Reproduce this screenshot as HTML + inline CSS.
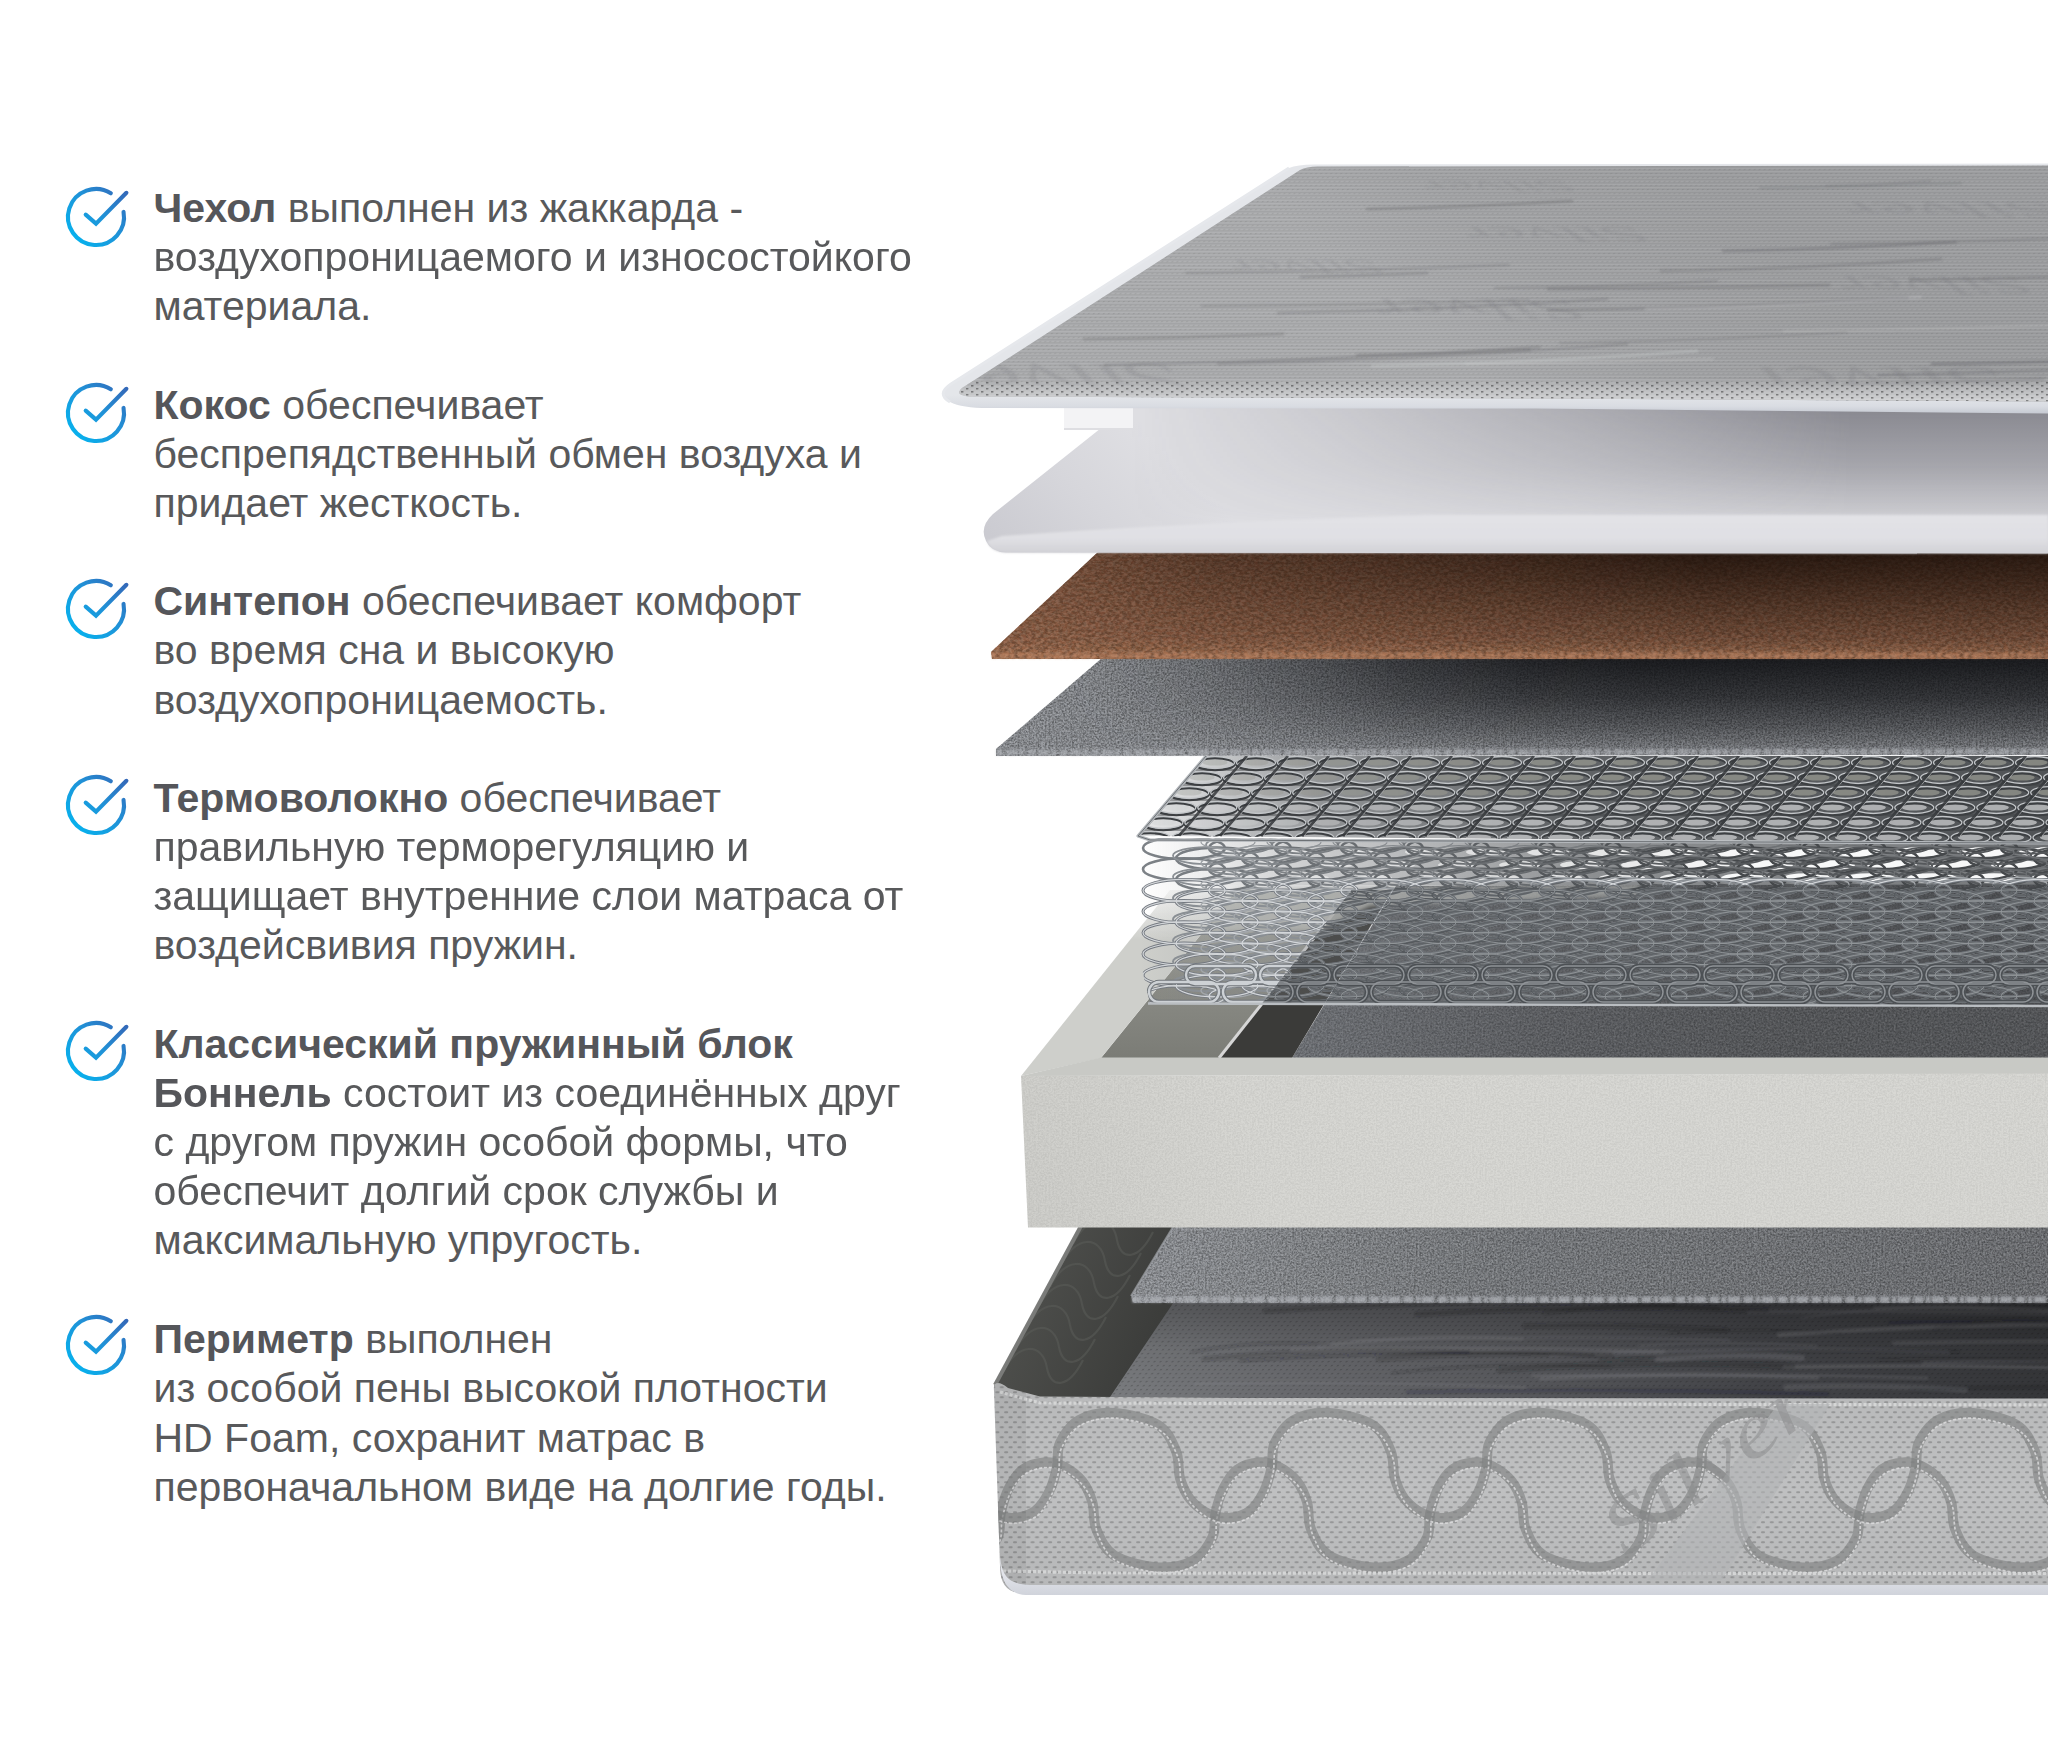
<!DOCTYPE html>
<html lang="ru"><head><meta charset="utf-8"><title>Состав матраса</title>
<style>
html,body{margin:0;padding:0;background:#fff}
body{width:2048px;height:1757px;position:relative;overflow:hidden;font-family:"Liberation Sans",Arial,sans-serif}
.ln{position:absolute;left:153.5px;white-space:nowrap;font-size:41px;line-height:49.15px;height:49.15px;color:#58595b;letter-spacing:0}
.ln b{font-weight:700;color:#55565a}
.ic{position:absolute;overflow:visible}
#mat{position:absolute;left:0;top:0}
</style></head><body>
<svg width="0" height="0" style="position:absolute"><defs>
<linearGradient id="gchk" gradientUnits="userSpaceOnUse" x1="-22" y1="24" x2="30" y2="-26"><stop offset="0" stop-color="#06b2ee"/><stop offset="0.55" stop-color="#2190d6"/><stop offset="1" stop-color="#3468b8"/></linearGradient>
<g id="chk" fill="none" stroke="url(#gchk)" stroke-width="4.1" stroke-linecap="round" stroke-linejoin="miter">
<path d="M14.84,-23.75 A28,28 0 1 0 27.53,-5.10"/>
<path d="M-10.3,-2.4 L0,6.6 L30.4,-24.2"/>
</g></defs></svg>
<svg id="mat" width="2048" height="1757" viewBox="0 0 2048 1757"><defs>
<filter id="fNoise" x="0" y="0" width="100%" height="100%">
  <feTurbulence type="fractalNoise" baseFrequency="0.55" numOctaves="3" seed="3" result="n"/>
  <feColorMatrix in="n" type="matrix" values="0 0 0 0 0  0 0 0 0 0  0 0 0 0 0  1.9 1.9 0 0 -1.45" result="a"/>
  <feComposite in="a" in2="SourceGraphic" operator="in"/>
</filter>
<filter id="fNoiseW" x="0" y="0" width="100%" height="100%">
  <feTurbulence type="fractalNoise" baseFrequency="0.5" numOctaves="3" seed="8" result="n"/>
  <feColorMatrix in="n" type="matrix" values="0 0 0 0 1  0 0 0 0 1  0 0 0 0 1  1.9 1.9 0 0 -1.5" result="a"/>
  <feComposite in="a" in2="SourceGraphic" operator="in"/>
</filter>
<filter id="fCoco" x="0" y="0" width="100%" height="100%">
  <feTurbulence type="fractalNoise" baseFrequency="0.22 0.34" numOctaves="4" seed="5" result="n"/>
  <feColorMatrix in="n" type="matrix" values="0 0 0 0 0.13  0 0 0 0 0.06  0 0 0 0 0.03  2.4 2.4 0 0 -1.9" result="a"/>
  <feComposite in="a" in2="SourceGraphic" operator="in"/>
</filter>
<filter id="fCocoL" x="0" y="0" width="100%" height="100%">
  <feTurbulence type="fractalNoise" baseFrequency="0.25 0.4" numOctaves="4" seed="21" result="n"/>
  <feColorMatrix in="n" type="matrix" values="0 0 0 0 0.86  0 0 0 0 0.66  0 0 0 0 0.54  2.4 2.4 0 0 -1.95" result="a"/>
  <feComposite in="a" in2="SourceGraphic" operator="in"/>
</filter>
<filter id="blur1"><feGaussianBlur stdDeviation="1"/></filter>
<filter id="blurL" filterUnits="userSpaceOnUse" x="900" y="100" width="1200" height="1600"><feGaussianBlur stdDeviation="0.8"/></filter>
<filter id="blur2"><feGaussianBlur stdDeviation="2"/></filter>
<filter id="blur4"><feGaussianBlur stdDeviation="4"/></filter>
<pattern id="dots" width="8.8" height="10" patternUnits="userSpaceOnUse"><rect x="1" y="1.2" width="4" height="2.1" rx="1" fill="#000" opacity="0.2"/><rect x="5.4" y="6.2" width="4" height="2.1" rx="1" fill="#000" opacity="0.2"/><rect x="-3.4" y="6.2" width="4" height="2.1" rx="1" fill="#000" opacity="0.2"/></pattern>
<pattern id="dotsTop" width="5" height="4" patternUnits="userSpaceOnUse" patternTransform="skewX(-40)"><rect x="1" y="1" width="1.6" height="1.2" fill="#000" opacity="0.09"/></pattern>
<pattern id="dotsEdge" width="10" height="6" patternUnits="userSpaceOnUse"><rect x="1" y="1" width="2.4" height="1.6" fill="#000" opacity="0.38"/><rect x="6" y="4" width="2.4" height="1.5" fill="#000" opacity="0.38"/></pattern>
<pattern id="dotsFloor" width="6" height="4" patternUnits="userSpaceOnUse" patternTransform="skewX(-35)"><rect x="1" y="1" width="2" height="1.2" fill="#000" opacity="0.22"/></pattern>

<linearGradient id="gFloorX" gradientUnits="userSpaceOnUse" x1="1100" y1="0" x2="2048" y2="0">
 <stop offset="0" stop-color="#7c7e81"/><stop offset="0.2" stop-color="#6a6b6f"/><stop offset="0.4" stop-color="#5c5d61"/><stop offset="0.7" stop-color="#444549"/><stop offset="1" stop-color="#36373a"/></linearGradient>
<linearGradient id="gFloorY" gradientUnits="userSpaceOnUse" x1="0" y1="1300" x2="0" y2="1400">
 <stop offset="0" stop-color="#000" stop-opacity="0.3"/><stop offset="0.5" stop-color="#000" stop-opacity="0.07"/><stop offset="1" stop-color="#000" stop-opacity="0"/></linearGradient>
<linearGradient id="gWall" gradientUnits="userSpaceOnUse" x1="1000" y1="1300" x2="1150" y2="1360">
 <stop offset="0" stop-color="#50514e"/><stop offset="1" stop-color="#3b3c3a"/></linearGradient>
<linearGradient id="gFront" gradientUnits="userSpaceOnUse" x1="0" y1="1398" x2="0" y2="1585">
 <stop offset="0" stop-color="#b9babb"/><stop offset="0.5" stop-color="#bfc0c1"/><stop offset="1" stop-color="#b7b8b9"/></linearGradient>
<linearGradient id="gTrimB" gradientUnits="userSpaceOnUse" x1="0" y1="1574" x2="0" y2="1595">
 <stop offset="0" stop-color="#e2e4ea"/><stop offset="1" stop-color="#d0d3db"/></linearGradient>
<clipPath id="cpFloor"><polygon points="1100.0,1400.0 1168.0,1296.0 2048.0,1296.0 2048.0,1400.0"/></clipPath><clipPath id="cpWall"><polygon points="994.0,1386.0 1080.0,1226.0 1225.0,1226.0 1108.0,1400.0 1000.0,1400.0"/></clipPath><clipPath id="cpFront"><path d="M994,1391 C993,1381 999,1381 1008,1388 L1040,1396.5 L1240,1398 L2048,1398.5 L2048,1592 L1014,1592 C1003,1588 1000,1578 1000,1566 Z"/></clipPath>
<linearGradient id="gFelt2" gradientUnits="userSpaceOnUse" x1="1130" y1="0" x2="2048" y2="0">
 <stop offset="0" stop-color="#94979c"/><stop offset="0.2" stop-color="#878a8e"/><stop offset="0.4" stop-color="#7a7d81"/><stop offset="1" stop-color="#6e7074"/></linearGradient>

<linearGradient id="gBoxFront" gradientUnits="userSpaceOnUse" x1="1020" y1="1230" x2="1500" y2="1075">
 <stop offset="0" stop-color="#cececa"/><stop offset="0.5" stop-color="#d7d7d3"/><stop offset="1" stop-color="#d8d8d4"/></linearGradient>
<linearGradient id="gRimFade" gradientUnits="userSpaceOnUse" x1="0" y1="888" x2="0" y2="940">
 <stop offset="0" stop-color="#cecfcb" stop-opacity="0.15"/><stop offset="1" stop-color="#cecfcb" stop-opacity="1"/></linearGradient>
<linearGradient id="gWallFade" gradientUnits="userSpaceOnUse" x1="0" y1="905" x2="0" y2="1058">
 <stop offset="0" stop-color="#a9aaa4"/><stop offset="0.5" stop-color="#8b8c86"/><stop offset="1" stop-color="#7b7c76"/></linearGradient>
<linearGradient id="gInFelt" gradientUnits="userSpaceOnUse" x1="1290" y1="0" x2="1800" y2="0">
 <stop offset="0" stop-color="#707378"/><stop offset="0.5" stop-color="#5d5f63"/><stop offset="1" stop-color="#545659"/></linearGradient>

<linearGradient id="gSprTop" gradientUnits="userSpaceOnUse" x1="1140" y1="0" x2="2048" y2="0">
 <stop offset="0" stop-color="#a0a3a6" stop-opacity="0.25"/><stop offset="0.2" stop-color="#75787b" stop-opacity="0.8"/><stop offset="0.45" stop-color="#5c5f62" stop-opacity="0.97"/><stop offset="1" stop-color="#505356" stop-opacity="1"/></linearGradient>
<linearGradient id="gSprBand" gradientUnits="userSpaceOnUse" x1="1140" y1="0" x2="2048" y2="0">
 <stop offset="0" stop-color="#8a8d90" stop-opacity="0"/><stop offset="0.18" stop-color="#84878a" stop-opacity="0.4"/><stop offset="0.5" stop-color="#6f7275" stop-opacity="0.8"/><stop offset="1" stop-color="#66696c" stop-opacity="0.9"/></linearGradient>
<linearGradient id="gSprLow" gradientUnits="userSpaceOnUse" x1="1140" y1="0" x2="2048" y2="0">
 <stop offset="0" stop-color="#8a8d90" stop-opacity="0"/><stop offset="0.12" stop-color="#8a8d90" stop-opacity="0.25"/><stop offset="0.3" stop-color="#6a6d70" stop-opacity="0.3"/><stop offset="1" stop-color="#3e4044" stop-opacity="0.4"/></linearGradient>
<clipPath id="cpSprF"><polygon points="1140.0,838.0 2048.0,843.0 2048.0,1006.0 1150.0,1004.0 1140.0,960.0"/></clipPath><clipPath id="cpSprT"><polygon points="1138.0,836.0 1206.0,756.0 2048.0,756.0 2048.0,843.0"/></clipPath><g id="cb0" fill="none"><ellipse cx="1184" cy="848.0" rx="41" ry="11"/><ellipse cx="1250" cy="848.0" rx="41" ry="11"/><ellipse cx="1316" cy="848.0" rx="41" ry="11"/><ellipse cx="1382" cy="848.0" rx="41" ry="11"/><ellipse cx="1448" cy="848.0" rx="41" ry="11"/><ellipse cx="1514" cy="848.0" rx="41" ry="11"/><ellipse cx="1580" cy="848.0" rx="41" ry="11"/><ellipse cx="1646" cy="848.0" rx="41" ry="11"/><ellipse cx="1712" cy="848.0" rx="41" ry="11"/><ellipse cx="1778" cy="848.0" rx="41" ry="11"/><ellipse cx="1844" cy="848.0" rx="41" ry="11"/><ellipse cx="1910" cy="848.0" rx="41" ry="11"/><ellipse cx="1976" cy="848.0" rx="41" ry="11"/><ellipse cx="2042" cy="848.0" rx="41" ry="11"/><ellipse cx="2108" cy="848.0" rx="41" ry="11"/><ellipse cx="1217" cy="858.6" rx="41" ry="11"/><ellipse cx="1283" cy="858.6" rx="41" ry="11"/><ellipse cx="1349" cy="858.6" rx="41" ry="11"/><ellipse cx="1415" cy="858.6" rx="41" ry="11"/><ellipse cx="1481" cy="858.6" rx="41" ry="11"/><ellipse cx="1547" cy="858.6" rx="41" ry="11"/><ellipse cx="1613" cy="858.6" rx="41" ry="11"/><ellipse cx="1679" cy="858.6" rx="41" ry="11"/><ellipse cx="1745" cy="858.6" rx="41" ry="11"/><ellipse cx="1811" cy="858.6" rx="41" ry="11"/><ellipse cx="1877" cy="858.6" rx="41" ry="11"/><ellipse cx="1943" cy="858.6" rx="41" ry="11"/><ellipse cx="2009" cy="858.6" rx="41" ry="11"/><ellipse cx="2075" cy="858.6" rx="41" ry="11"/><ellipse cx="1184" cy="869.2" rx="41" ry="11"/><ellipse cx="1250" cy="869.2" rx="41" ry="11"/><ellipse cx="1316" cy="869.2" rx="41" ry="11"/><ellipse cx="1382" cy="869.2" rx="41" ry="11"/><ellipse cx="1448" cy="869.2" rx="41" ry="11"/><ellipse cx="1514" cy="869.2" rx="41" ry="11"/><ellipse cx="1580" cy="869.2" rx="41" ry="11"/><ellipse cx="1646" cy="869.2" rx="41" ry="11"/><ellipse cx="1712" cy="869.2" rx="41" ry="11"/><ellipse cx="1778" cy="869.2" rx="41" ry="11"/><ellipse cx="1844" cy="869.2" rx="41" ry="11"/><ellipse cx="1910" cy="869.2" rx="41" ry="11"/><ellipse cx="1976" cy="869.2" rx="41" ry="11"/><ellipse cx="2042" cy="869.2" rx="41" ry="11"/><ellipse cx="2108" cy="869.2" rx="41" ry="11"/><ellipse cx="1217" cy="879.8" rx="41" ry="11"/><ellipse cx="1283" cy="879.8" rx="41" ry="11"/><ellipse cx="1349" cy="879.8" rx="41" ry="11"/><ellipse cx="1415" cy="879.8" rx="41" ry="11"/><ellipse cx="1481" cy="879.8" rx="41" ry="11"/><ellipse cx="1547" cy="879.8" rx="41" ry="11"/><ellipse cx="1613" cy="879.8" rx="41" ry="11"/><ellipse cx="1679" cy="879.8" rx="41" ry="11"/><ellipse cx="1745" cy="879.8" rx="41" ry="11"/><ellipse cx="1811" cy="879.8" rx="41" ry="11"/><ellipse cx="1877" cy="879.8" rx="41" ry="11"/><ellipse cx="1943" cy="879.8" rx="41" ry="11"/><ellipse cx="2009" cy="879.8" rx="41" ry="11"/><ellipse cx="2075" cy="879.8" rx="41" ry="11"/></g><g id="cb1" fill="none"><ellipse cx="1239" cy="845.0" rx="33" ry="8.5"/><ellipse cx="1305" cy="845.0" rx="33" ry="8.5"/><ellipse cx="1371" cy="845.0" rx="33" ry="8.5"/><ellipse cx="1437" cy="845.0" rx="33" ry="8.5"/><ellipse cx="1503" cy="845.0" rx="33" ry="8.5"/><ellipse cx="1569" cy="845.0" rx="33" ry="8.5"/><ellipse cx="1635" cy="845.0" rx="33" ry="8.5"/><ellipse cx="1701" cy="845.0" rx="33" ry="8.5"/><ellipse cx="1767" cy="845.0" rx="33" ry="8.5"/><ellipse cx="1833" cy="845.0" rx="33" ry="8.5"/><ellipse cx="1899" cy="845.0" rx="33" ry="8.5"/><ellipse cx="1965" cy="845.0" rx="33" ry="8.5"/><ellipse cx="2031" cy="845.0" rx="33" ry="8.5"/><ellipse cx="2097" cy="845.0" rx="33" ry="8.5"/><ellipse cx="1206" cy="855.6" rx="33" ry="8.5"/><ellipse cx="1272" cy="855.6" rx="33" ry="8.5"/><ellipse cx="1338" cy="855.6" rx="33" ry="8.5"/><ellipse cx="1404" cy="855.6" rx="33" ry="8.5"/><ellipse cx="1470" cy="855.6" rx="33" ry="8.5"/><ellipse cx="1536" cy="855.6" rx="33" ry="8.5"/><ellipse cx="1602" cy="855.6" rx="33" ry="8.5"/><ellipse cx="1668" cy="855.6" rx="33" ry="8.5"/><ellipse cx="1734" cy="855.6" rx="33" ry="8.5"/><ellipse cx="1800" cy="855.6" rx="33" ry="8.5"/><ellipse cx="1866" cy="855.6" rx="33" ry="8.5"/><ellipse cx="1932" cy="855.6" rx="33" ry="8.5"/><ellipse cx="1998" cy="855.6" rx="33" ry="8.5"/><ellipse cx="2064" cy="855.6" rx="33" ry="8.5"/><ellipse cx="1239" cy="866.2" rx="33" ry="8.5"/><ellipse cx="1305" cy="866.2" rx="33" ry="8.5"/><ellipse cx="1371" cy="866.2" rx="33" ry="8.5"/><ellipse cx="1437" cy="866.2" rx="33" ry="8.5"/><ellipse cx="1503" cy="866.2" rx="33" ry="8.5"/><ellipse cx="1569" cy="866.2" rx="33" ry="8.5"/><ellipse cx="1635" cy="866.2" rx="33" ry="8.5"/><ellipse cx="1701" cy="866.2" rx="33" ry="8.5"/><ellipse cx="1767" cy="866.2" rx="33" ry="8.5"/><ellipse cx="1833" cy="866.2" rx="33" ry="8.5"/><ellipse cx="1899" cy="866.2" rx="33" ry="8.5"/><ellipse cx="1965" cy="866.2" rx="33" ry="8.5"/><ellipse cx="2031" cy="866.2" rx="33" ry="8.5"/><ellipse cx="2097" cy="866.2" rx="33" ry="8.5"/><ellipse cx="1206" cy="876.8" rx="33" ry="8.5"/><ellipse cx="1272" cy="876.8" rx="33" ry="8.5"/><ellipse cx="1338" cy="876.8" rx="33" ry="8.5"/><ellipse cx="1404" cy="876.8" rx="33" ry="8.5"/><ellipse cx="1470" cy="876.8" rx="33" ry="8.5"/><ellipse cx="1536" cy="876.8" rx="33" ry="8.5"/><ellipse cx="1602" cy="876.8" rx="33" ry="8.5"/><ellipse cx="1668" cy="876.8" rx="33" ry="8.5"/><ellipse cx="1734" cy="876.8" rx="33" ry="8.5"/><ellipse cx="1800" cy="876.8" rx="33" ry="8.5"/><ellipse cx="1866" cy="876.8" rx="33" ry="8.5"/><ellipse cx="1932" cy="876.8" rx="33" ry="8.5"/><ellipse cx="1998" cy="876.8" rx="33" ry="8.5"/><ellipse cx="2064" cy="876.8" rx="33" ry="8.5"/></g><g id="cb2" fill="none"><ellipse cx="1228" cy="842.0" rx="27" ry="7"/><ellipse cx="1294" cy="842.0" rx="27" ry="7"/><ellipse cx="1360" cy="842.0" rx="27" ry="7"/><ellipse cx="1426" cy="842.0" rx="27" ry="7"/><ellipse cx="1492" cy="842.0" rx="27" ry="7"/><ellipse cx="1558" cy="842.0" rx="27" ry="7"/><ellipse cx="1624" cy="842.0" rx="27" ry="7"/><ellipse cx="1690" cy="842.0" rx="27" ry="7"/><ellipse cx="1756" cy="842.0" rx="27" ry="7"/><ellipse cx="1822" cy="842.0" rx="27" ry="7"/><ellipse cx="1888" cy="842.0" rx="27" ry="7"/><ellipse cx="1954" cy="842.0" rx="27" ry="7"/><ellipse cx="2020" cy="842.0" rx="27" ry="7"/><ellipse cx="2086" cy="842.0" rx="27" ry="7"/><ellipse cx="1261" cy="852.6" rx="27" ry="7"/><ellipse cx="1327" cy="852.6" rx="27" ry="7"/><ellipse cx="1393" cy="852.6" rx="27" ry="7"/><ellipse cx="1459" cy="852.6" rx="27" ry="7"/><ellipse cx="1525" cy="852.6" rx="27" ry="7"/><ellipse cx="1591" cy="852.6" rx="27" ry="7"/><ellipse cx="1657" cy="852.6" rx="27" ry="7"/><ellipse cx="1723" cy="852.6" rx="27" ry="7"/><ellipse cx="1789" cy="852.6" rx="27" ry="7"/><ellipse cx="1855" cy="852.6" rx="27" ry="7"/><ellipse cx="1921" cy="852.6" rx="27" ry="7"/><ellipse cx="1987" cy="852.6" rx="27" ry="7"/><ellipse cx="2053" cy="852.6" rx="27" ry="7"/><ellipse cx="1228" cy="863.2" rx="27" ry="7"/><ellipse cx="1294" cy="863.2" rx="27" ry="7"/><ellipse cx="1360" cy="863.2" rx="27" ry="7"/><ellipse cx="1426" cy="863.2" rx="27" ry="7"/><ellipse cx="1492" cy="863.2" rx="27" ry="7"/><ellipse cx="1558" cy="863.2" rx="27" ry="7"/><ellipse cx="1624" cy="863.2" rx="27" ry="7"/><ellipse cx="1690" cy="863.2" rx="27" ry="7"/><ellipse cx="1756" cy="863.2" rx="27" ry="7"/><ellipse cx="1822" cy="863.2" rx="27" ry="7"/><ellipse cx="1888" cy="863.2" rx="27" ry="7"/><ellipse cx="1954" cy="863.2" rx="27" ry="7"/><ellipse cx="2020" cy="863.2" rx="27" ry="7"/><ellipse cx="2086" cy="863.2" rx="27" ry="7"/><ellipse cx="1261" cy="873.8" rx="27" ry="7"/><ellipse cx="1327" cy="873.8" rx="27" ry="7"/><ellipse cx="1393" cy="873.8" rx="27" ry="7"/><ellipse cx="1459" cy="873.8" rx="27" ry="7"/><ellipse cx="1525" cy="873.8" rx="27" ry="7"/><ellipse cx="1591" cy="873.8" rx="27" ry="7"/><ellipse cx="1657" cy="873.8" rx="27" ry="7"/><ellipse cx="1723" cy="873.8" rx="27" ry="7"/><ellipse cx="1789" cy="873.8" rx="27" ry="7"/><ellipse cx="1855" cy="873.8" rx="27" ry="7"/><ellipse cx="1921" cy="873.8" rx="27" ry="7"/><ellipse cx="1987" cy="873.8" rx="27" ry="7"/><ellipse cx="2053" cy="873.8" rx="27" ry="7"/></g><g id="cl0" fill="none"><ellipse cx="1184" cy="890.4" rx="41" ry="11"/><ellipse cx="1250" cy="890.4" rx="41" ry="11"/><ellipse cx="1316" cy="890.4" rx="41" ry="11"/><ellipse cx="1382" cy="890.4" rx="41" ry="11"/><ellipse cx="1448" cy="890.4" rx="41" ry="11"/><ellipse cx="1514" cy="890.4" rx="41" ry="11"/><ellipse cx="1580" cy="890.4" rx="41" ry="11"/><ellipse cx="1646" cy="890.4" rx="41" ry="11"/><ellipse cx="1712" cy="890.4" rx="41" ry="11"/><ellipse cx="1778" cy="890.4" rx="41" ry="11"/><ellipse cx="1844" cy="890.4" rx="41" ry="11"/><ellipse cx="1910" cy="890.4" rx="41" ry="11"/><ellipse cx="1976" cy="890.4" rx="41" ry="11"/><ellipse cx="2042" cy="890.4" rx="41" ry="11"/><ellipse cx="2108" cy="890.4" rx="41" ry="11"/><ellipse cx="1217" cy="901.0" rx="41" ry="11"/><ellipse cx="1283" cy="901.0" rx="41" ry="11"/><ellipse cx="1349" cy="901.0" rx="41" ry="11"/><ellipse cx="1415" cy="901.0" rx="41" ry="11"/><ellipse cx="1481" cy="901.0" rx="41" ry="11"/><ellipse cx="1547" cy="901.0" rx="41" ry="11"/><ellipse cx="1613" cy="901.0" rx="41" ry="11"/><ellipse cx="1679" cy="901.0" rx="41" ry="11"/><ellipse cx="1745" cy="901.0" rx="41" ry="11"/><ellipse cx="1811" cy="901.0" rx="41" ry="11"/><ellipse cx="1877" cy="901.0" rx="41" ry="11"/><ellipse cx="1943" cy="901.0" rx="41" ry="11"/><ellipse cx="2009" cy="901.0" rx="41" ry="11"/><ellipse cx="2075" cy="901.0" rx="41" ry="11"/><ellipse cx="1184" cy="911.6" rx="41" ry="11"/><ellipse cx="1250" cy="911.6" rx="41" ry="11"/><ellipse cx="1316" cy="911.6" rx="41" ry="11"/><ellipse cx="1382" cy="911.6" rx="41" ry="11"/><ellipse cx="1448" cy="911.6" rx="41" ry="11"/><ellipse cx="1514" cy="911.6" rx="41" ry="11"/><ellipse cx="1580" cy="911.6" rx="41" ry="11"/><ellipse cx="1646" cy="911.6" rx="41" ry="11"/><ellipse cx="1712" cy="911.6" rx="41" ry="11"/><ellipse cx="1778" cy="911.6" rx="41" ry="11"/><ellipse cx="1844" cy="911.6" rx="41" ry="11"/><ellipse cx="1910" cy="911.6" rx="41" ry="11"/><ellipse cx="1976" cy="911.6" rx="41" ry="11"/><ellipse cx="2042" cy="911.6" rx="41" ry="11"/><ellipse cx="2108" cy="911.6" rx="41" ry="11"/><ellipse cx="1217" cy="922.2" rx="41" ry="11"/><ellipse cx="1283" cy="922.2" rx="41" ry="11"/><ellipse cx="1349" cy="922.2" rx="41" ry="11"/><ellipse cx="1415" cy="922.2" rx="41" ry="11"/><ellipse cx="1481" cy="922.2" rx="41" ry="11"/><ellipse cx="1547" cy="922.2" rx="41" ry="11"/><ellipse cx="1613" cy="922.2" rx="41" ry="11"/><ellipse cx="1679" cy="922.2" rx="41" ry="11"/><ellipse cx="1745" cy="922.2" rx="41" ry="11"/><ellipse cx="1811" cy="922.2" rx="41" ry="11"/><ellipse cx="1877" cy="922.2" rx="41" ry="11"/><ellipse cx="1943" cy="922.2" rx="41" ry="11"/><ellipse cx="2009" cy="922.2" rx="41" ry="11"/><ellipse cx="2075" cy="922.2" rx="41" ry="11"/><ellipse cx="1184" cy="932.8" rx="41" ry="11"/><ellipse cx="1250" cy="932.8" rx="41" ry="11"/><ellipse cx="1316" cy="932.8" rx="41" ry="11"/><ellipse cx="1382" cy="932.8" rx="41" ry="11"/><ellipse cx="1448" cy="932.8" rx="41" ry="11"/><ellipse cx="1514" cy="932.8" rx="41" ry="11"/><ellipse cx="1580" cy="932.8" rx="41" ry="11"/><ellipse cx="1646" cy="932.8" rx="41" ry="11"/><ellipse cx="1712" cy="932.8" rx="41" ry="11"/><ellipse cx="1778" cy="932.8" rx="41" ry="11"/><ellipse cx="1844" cy="932.8" rx="41" ry="11"/><ellipse cx="1910" cy="932.8" rx="41" ry="11"/><ellipse cx="1976" cy="932.8" rx="41" ry="11"/><ellipse cx="2042" cy="932.8" rx="41" ry="11"/><ellipse cx="2108" cy="932.8" rx="41" ry="11"/><ellipse cx="1217" cy="943.4" rx="41" ry="11"/><ellipse cx="1283" cy="943.4" rx="41" ry="11"/><ellipse cx="1349" cy="943.4" rx="41" ry="11"/><ellipse cx="1415" cy="943.4" rx="41" ry="11"/><ellipse cx="1481" cy="943.4" rx="41" ry="11"/><ellipse cx="1547" cy="943.4" rx="41" ry="11"/><ellipse cx="1613" cy="943.4" rx="41" ry="11"/><ellipse cx="1679" cy="943.4" rx="41" ry="11"/><ellipse cx="1745" cy="943.4" rx="41" ry="11"/><ellipse cx="1811" cy="943.4" rx="41" ry="11"/><ellipse cx="1877" cy="943.4" rx="41" ry="11"/><ellipse cx="1943" cy="943.4" rx="41" ry="11"/><ellipse cx="2009" cy="943.4" rx="41" ry="11"/><ellipse cx="2075" cy="943.4" rx="41" ry="11"/><ellipse cx="1184" cy="954.0" rx="41" ry="11"/><ellipse cx="1250" cy="954.0" rx="41" ry="11"/><ellipse cx="1316" cy="954.0" rx="41" ry="11"/><ellipse cx="1382" cy="954.0" rx="41" ry="11"/><ellipse cx="1448" cy="954.0" rx="41" ry="11"/><ellipse cx="1514" cy="954.0" rx="41" ry="11"/><ellipse cx="1580" cy="954.0" rx="41" ry="11"/><ellipse cx="1646" cy="954.0" rx="41" ry="11"/><ellipse cx="1712" cy="954.0" rx="41" ry="11"/><ellipse cx="1778" cy="954.0" rx="41" ry="11"/><ellipse cx="1844" cy="954.0" rx="41" ry="11"/><ellipse cx="1910" cy="954.0" rx="41" ry="11"/><ellipse cx="1976" cy="954.0" rx="41" ry="11"/><ellipse cx="2042" cy="954.0" rx="41" ry="11"/><ellipse cx="2108" cy="954.0" rx="41" ry="11"/><ellipse cx="1217" cy="964.6" rx="41" ry="11"/><ellipse cx="1283" cy="964.6" rx="41" ry="11"/><ellipse cx="1349" cy="964.6" rx="41" ry="11"/><ellipse cx="1415" cy="964.6" rx="41" ry="11"/><ellipse cx="1481" cy="964.6" rx="41" ry="11"/><ellipse cx="1547" cy="964.6" rx="41" ry="11"/><ellipse cx="1613" cy="964.6" rx="41" ry="11"/><ellipse cx="1679" cy="964.6" rx="41" ry="11"/><ellipse cx="1745" cy="964.6" rx="41" ry="11"/><ellipse cx="1811" cy="964.6" rx="41" ry="11"/><ellipse cx="1877" cy="964.6" rx="41" ry="11"/><ellipse cx="1943" cy="964.6" rx="41" ry="11"/><ellipse cx="2009" cy="964.6" rx="41" ry="11"/><ellipse cx="2075" cy="964.6" rx="41" ry="11"/><ellipse cx="1184" cy="975.2" rx="41" ry="11"/><ellipse cx="1250" cy="975.2" rx="41" ry="11"/><ellipse cx="1316" cy="975.2" rx="41" ry="11"/><ellipse cx="1382" cy="975.2" rx="41" ry="11"/><ellipse cx="1448" cy="975.2" rx="41" ry="11"/><ellipse cx="1514" cy="975.2" rx="41" ry="11"/><ellipse cx="1580" cy="975.2" rx="41" ry="11"/><ellipse cx="1646" cy="975.2" rx="41" ry="11"/><ellipse cx="1712" cy="975.2" rx="41" ry="11"/><ellipse cx="1778" cy="975.2" rx="41" ry="11"/><ellipse cx="1844" cy="975.2" rx="41" ry="11"/><ellipse cx="1910" cy="975.2" rx="41" ry="11"/><ellipse cx="1976" cy="975.2" rx="41" ry="11"/><ellipse cx="2042" cy="975.2" rx="41" ry="11"/><ellipse cx="2108" cy="975.2" rx="41" ry="11"/><ellipse cx="1217" cy="985.8" rx="41" ry="11"/><ellipse cx="1283" cy="985.8" rx="41" ry="11"/><ellipse cx="1349" cy="985.8" rx="41" ry="11"/><ellipse cx="1415" cy="985.8" rx="41" ry="11"/><ellipse cx="1481" cy="985.8" rx="41" ry="11"/><ellipse cx="1547" cy="985.8" rx="41" ry="11"/><ellipse cx="1613" cy="985.8" rx="41" ry="11"/><ellipse cx="1679" cy="985.8" rx="41" ry="11"/><ellipse cx="1745" cy="985.8" rx="41" ry="11"/><ellipse cx="1811" cy="985.8" rx="41" ry="11"/><ellipse cx="1877" cy="985.8" rx="41" ry="11"/><ellipse cx="1943" cy="985.8" rx="41" ry="11"/><ellipse cx="2009" cy="985.8" rx="41" ry="11"/><ellipse cx="2075" cy="985.8" rx="41" ry="11"/><ellipse cx="1184" cy="996.4" rx="41" ry="11"/><ellipse cx="1250" cy="996.4" rx="41" ry="11"/><ellipse cx="1316" cy="996.4" rx="41" ry="11"/><ellipse cx="1382" cy="996.4" rx="41" ry="11"/><ellipse cx="1448" cy="996.4" rx="41" ry="11"/><ellipse cx="1514" cy="996.4" rx="41" ry="11"/><ellipse cx="1580" cy="996.4" rx="41" ry="11"/><ellipse cx="1646" cy="996.4" rx="41" ry="11"/><ellipse cx="1712" cy="996.4" rx="41" ry="11"/><ellipse cx="1778" cy="996.4" rx="41" ry="11"/><ellipse cx="1844" cy="996.4" rx="41" ry="11"/><ellipse cx="1910" cy="996.4" rx="41" ry="11"/><ellipse cx="1976" cy="996.4" rx="41" ry="11"/><ellipse cx="2042" cy="996.4" rx="41" ry="11"/><ellipse cx="2108" cy="996.4" rx="41" ry="11"/></g><g id="cl1" fill="none"><ellipse cx="1239" cy="887.4" rx="33" ry="8.5"/><ellipse cx="1305" cy="887.4" rx="33" ry="8.5"/><ellipse cx="1371" cy="887.4" rx="33" ry="8.5"/><ellipse cx="1437" cy="887.4" rx="33" ry="8.5"/><ellipse cx="1503" cy="887.4" rx="33" ry="8.5"/><ellipse cx="1569" cy="887.4" rx="33" ry="8.5"/><ellipse cx="1635" cy="887.4" rx="33" ry="8.5"/><ellipse cx="1701" cy="887.4" rx="33" ry="8.5"/><ellipse cx="1767" cy="887.4" rx="33" ry="8.5"/><ellipse cx="1833" cy="887.4" rx="33" ry="8.5"/><ellipse cx="1899" cy="887.4" rx="33" ry="8.5"/><ellipse cx="1965" cy="887.4" rx="33" ry="8.5"/><ellipse cx="2031" cy="887.4" rx="33" ry="8.5"/><ellipse cx="2097" cy="887.4" rx="33" ry="8.5"/><ellipse cx="1206" cy="898.0" rx="33" ry="8.5"/><ellipse cx="1272" cy="898.0" rx="33" ry="8.5"/><ellipse cx="1338" cy="898.0" rx="33" ry="8.5"/><ellipse cx="1404" cy="898.0" rx="33" ry="8.5"/><ellipse cx="1470" cy="898.0" rx="33" ry="8.5"/><ellipse cx="1536" cy="898.0" rx="33" ry="8.5"/><ellipse cx="1602" cy="898.0" rx="33" ry="8.5"/><ellipse cx="1668" cy="898.0" rx="33" ry="8.5"/><ellipse cx="1734" cy="898.0" rx="33" ry="8.5"/><ellipse cx="1800" cy="898.0" rx="33" ry="8.5"/><ellipse cx="1866" cy="898.0" rx="33" ry="8.5"/><ellipse cx="1932" cy="898.0" rx="33" ry="8.5"/><ellipse cx="1998" cy="898.0" rx="33" ry="8.5"/><ellipse cx="2064" cy="898.0" rx="33" ry="8.5"/><ellipse cx="1239" cy="908.6" rx="33" ry="8.5"/><ellipse cx="1305" cy="908.6" rx="33" ry="8.5"/><ellipse cx="1371" cy="908.6" rx="33" ry="8.5"/><ellipse cx="1437" cy="908.6" rx="33" ry="8.5"/><ellipse cx="1503" cy="908.6" rx="33" ry="8.5"/><ellipse cx="1569" cy="908.6" rx="33" ry="8.5"/><ellipse cx="1635" cy="908.6" rx="33" ry="8.5"/><ellipse cx="1701" cy="908.6" rx="33" ry="8.5"/><ellipse cx="1767" cy="908.6" rx="33" ry="8.5"/><ellipse cx="1833" cy="908.6" rx="33" ry="8.5"/><ellipse cx="1899" cy="908.6" rx="33" ry="8.5"/><ellipse cx="1965" cy="908.6" rx="33" ry="8.5"/><ellipse cx="2031" cy="908.6" rx="33" ry="8.5"/><ellipse cx="2097" cy="908.6" rx="33" ry="8.5"/><ellipse cx="1206" cy="919.2" rx="33" ry="8.5"/><ellipse cx="1272" cy="919.2" rx="33" ry="8.5"/><ellipse cx="1338" cy="919.2" rx="33" ry="8.5"/><ellipse cx="1404" cy="919.2" rx="33" ry="8.5"/><ellipse cx="1470" cy="919.2" rx="33" ry="8.5"/><ellipse cx="1536" cy="919.2" rx="33" ry="8.5"/><ellipse cx="1602" cy="919.2" rx="33" ry="8.5"/><ellipse cx="1668" cy="919.2" rx="33" ry="8.5"/><ellipse cx="1734" cy="919.2" rx="33" ry="8.5"/><ellipse cx="1800" cy="919.2" rx="33" ry="8.5"/><ellipse cx="1866" cy="919.2" rx="33" ry="8.5"/><ellipse cx="1932" cy="919.2" rx="33" ry="8.5"/><ellipse cx="1998" cy="919.2" rx="33" ry="8.5"/><ellipse cx="2064" cy="919.2" rx="33" ry="8.5"/><ellipse cx="1239" cy="929.8" rx="33" ry="8.5"/><ellipse cx="1305" cy="929.8" rx="33" ry="8.5"/><ellipse cx="1371" cy="929.8" rx="33" ry="8.5"/><ellipse cx="1437" cy="929.8" rx="33" ry="8.5"/><ellipse cx="1503" cy="929.8" rx="33" ry="8.5"/><ellipse cx="1569" cy="929.8" rx="33" ry="8.5"/><ellipse cx="1635" cy="929.8" rx="33" ry="8.5"/><ellipse cx="1701" cy="929.8" rx="33" ry="8.5"/><ellipse cx="1767" cy="929.8" rx="33" ry="8.5"/><ellipse cx="1833" cy="929.8" rx="33" ry="8.5"/><ellipse cx="1899" cy="929.8" rx="33" ry="8.5"/><ellipse cx="1965" cy="929.8" rx="33" ry="8.5"/><ellipse cx="2031" cy="929.8" rx="33" ry="8.5"/><ellipse cx="2097" cy="929.8" rx="33" ry="8.5"/><ellipse cx="1206" cy="940.4" rx="33" ry="8.5"/><ellipse cx="1272" cy="940.4" rx="33" ry="8.5"/><ellipse cx="1338" cy="940.4" rx="33" ry="8.5"/><ellipse cx="1404" cy="940.4" rx="33" ry="8.5"/><ellipse cx="1470" cy="940.4" rx="33" ry="8.5"/><ellipse cx="1536" cy="940.4" rx="33" ry="8.5"/><ellipse cx="1602" cy="940.4" rx="33" ry="8.5"/><ellipse cx="1668" cy="940.4" rx="33" ry="8.5"/><ellipse cx="1734" cy="940.4" rx="33" ry="8.5"/><ellipse cx="1800" cy="940.4" rx="33" ry="8.5"/><ellipse cx="1866" cy="940.4" rx="33" ry="8.5"/><ellipse cx="1932" cy="940.4" rx="33" ry="8.5"/><ellipse cx="1998" cy="940.4" rx="33" ry="8.5"/><ellipse cx="2064" cy="940.4" rx="33" ry="8.5"/><ellipse cx="1239" cy="951.0" rx="33" ry="8.5"/><ellipse cx="1305" cy="951.0" rx="33" ry="8.5"/><ellipse cx="1371" cy="951.0" rx="33" ry="8.5"/><ellipse cx="1437" cy="951.0" rx="33" ry="8.5"/><ellipse cx="1503" cy="951.0" rx="33" ry="8.5"/><ellipse cx="1569" cy="951.0" rx="33" ry="8.5"/><ellipse cx="1635" cy="951.0" rx="33" ry="8.5"/><ellipse cx="1701" cy="951.0" rx="33" ry="8.5"/><ellipse cx="1767" cy="951.0" rx="33" ry="8.5"/><ellipse cx="1833" cy="951.0" rx="33" ry="8.5"/><ellipse cx="1899" cy="951.0" rx="33" ry="8.5"/><ellipse cx="1965" cy="951.0" rx="33" ry="8.5"/><ellipse cx="2031" cy="951.0" rx="33" ry="8.5"/><ellipse cx="2097" cy="951.0" rx="33" ry="8.5"/><ellipse cx="1206" cy="961.6" rx="33" ry="8.5"/><ellipse cx="1272" cy="961.6" rx="33" ry="8.5"/><ellipse cx="1338" cy="961.6" rx="33" ry="8.5"/><ellipse cx="1404" cy="961.6" rx="33" ry="8.5"/><ellipse cx="1470" cy="961.6" rx="33" ry="8.5"/><ellipse cx="1536" cy="961.6" rx="33" ry="8.5"/><ellipse cx="1602" cy="961.6" rx="33" ry="8.5"/><ellipse cx="1668" cy="961.6" rx="33" ry="8.5"/><ellipse cx="1734" cy="961.6" rx="33" ry="8.5"/><ellipse cx="1800" cy="961.6" rx="33" ry="8.5"/><ellipse cx="1866" cy="961.6" rx="33" ry="8.5"/><ellipse cx="1932" cy="961.6" rx="33" ry="8.5"/><ellipse cx="1998" cy="961.6" rx="33" ry="8.5"/><ellipse cx="2064" cy="961.6" rx="33" ry="8.5"/><ellipse cx="1239" cy="972.2" rx="33" ry="8.5"/><ellipse cx="1305" cy="972.2" rx="33" ry="8.5"/><ellipse cx="1371" cy="972.2" rx="33" ry="8.5"/><ellipse cx="1437" cy="972.2" rx="33" ry="8.5"/><ellipse cx="1503" cy="972.2" rx="33" ry="8.5"/><ellipse cx="1569" cy="972.2" rx="33" ry="8.5"/><ellipse cx="1635" cy="972.2" rx="33" ry="8.5"/><ellipse cx="1701" cy="972.2" rx="33" ry="8.5"/><ellipse cx="1767" cy="972.2" rx="33" ry="8.5"/><ellipse cx="1833" cy="972.2" rx="33" ry="8.5"/><ellipse cx="1899" cy="972.2" rx="33" ry="8.5"/><ellipse cx="1965" cy="972.2" rx="33" ry="8.5"/><ellipse cx="2031" cy="972.2" rx="33" ry="8.5"/><ellipse cx="2097" cy="972.2" rx="33" ry="8.5"/><ellipse cx="1206" cy="982.8" rx="33" ry="8.5"/><ellipse cx="1272" cy="982.8" rx="33" ry="8.5"/><ellipse cx="1338" cy="982.8" rx="33" ry="8.5"/><ellipse cx="1404" cy="982.8" rx="33" ry="8.5"/><ellipse cx="1470" cy="982.8" rx="33" ry="8.5"/><ellipse cx="1536" cy="982.8" rx="33" ry="8.5"/><ellipse cx="1602" cy="982.8" rx="33" ry="8.5"/><ellipse cx="1668" cy="982.8" rx="33" ry="8.5"/><ellipse cx="1734" cy="982.8" rx="33" ry="8.5"/><ellipse cx="1800" cy="982.8" rx="33" ry="8.5"/><ellipse cx="1866" cy="982.8" rx="33" ry="8.5"/><ellipse cx="1932" cy="982.8" rx="33" ry="8.5"/><ellipse cx="1998" cy="982.8" rx="33" ry="8.5"/><ellipse cx="2064" cy="982.8" rx="33" ry="8.5"/><ellipse cx="1239" cy="993.4" rx="33" ry="8.5"/><ellipse cx="1305" cy="993.4" rx="33" ry="8.5"/><ellipse cx="1371" cy="993.4" rx="33" ry="8.5"/><ellipse cx="1437" cy="993.4" rx="33" ry="8.5"/><ellipse cx="1503" cy="993.4" rx="33" ry="8.5"/><ellipse cx="1569" cy="993.4" rx="33" ry="8.5"/><ellipse cx="1635" cy="993.4" rx="33" ry="8.5"/><ellipse cx="1701" cy="993.4" rx="33" ry="8.5"/><ellipse cx="1767" cy="993.4" rx="33" ry="8.5"/><ellipse cx="1833" cy="993.4" rx="33" ry="8.5"/><ellipse cx="1899" cy="993.4" rx="33" ry="8.5"/><ellipse cx="1965" cy="993.4" rx="33" ry="8.5"/><ellipse cx="2031" cy="993.4" rx="33" ry="8.5"/><ellipse cx="2097" cy="993.4" rx="33" ry="8.5"/></g><g id="cl2" fill="none"><ellipse cx="1228" cy="884.4" rx="27" ry="7"/><ellipse cx="1294" cy="884.4" rx="27" ry="7"/><ellipse cx="1360" cy="884.4" rx="27" ry="7"/><ellipse cx="1426" cy="884.4" rx="27" ry="7"/><ellipse cx="1492" cy="884.4" rx="27" ry="7"/><ellipse cx="1558" cy="884.4" rx="27" ry="7"/><ellipse cx="1624" cy="884.4" rx="27" ry="7"/><ellipse cx="1690" cy="884.4" rx="27" ry="7"/><ellipse cx="1756" cy="884.4" rx="27" ry="7"/><ellipse cx="1822" cy="884.4" rx="27" ry="7"/><ellipse cx="1888" cy="884.4" rx="27" ry="7"/><ellipse cx="1954" cy="884.4" rx="27" ry="7"/><ellipse cx="2020" cy="884.4" rx="27" ry="7"/><ellipse cx="2086" cy="884.4" rx="27" ry="7"/><ellipse cx="1261" cy="895.0" rx="27" ry="7"/><ellipse cx="1327" cy="895.0" rx="27" ry="7"/><ellipse cx="1393" cy="895.0" rx="27" ry="7"/><ellipse cx="1459" cy="895.0" rx="27" ry="7"/><ellipse cx="1525" cy="895.0" rx="27" ry="7"/><ellipse cx="1591" cy="895.0" rx="27" ry="7"/><ellipse cx="1657" cy="895.0" rx="27" ry="7"/><ellipse cx="1723" cy="895.0" rx="27" ry="7"/><ellipse cx="1789" cy="895.0" rx="27" ry="7"/><ellipse cx="1855" cy="895.0" rx="27" ry="7"/><ellipse cx="1921" cy="895.0" rx="27" ry="7"/><ellipse cx="1987" cy="895.0" rx="27" ry="7"/><ellipse cx="2053" cy="895.0" rx="27" ry="7"/><ellipse cx="1228" cy="905.6" rx="27" ry="7"/><ellipse cx="1294" cy="905.6" rx="27" ry="7"/><ellipse cx="1360" cy="905.6" rx="27" ry="7"/><ellipse cx="1426" cy="905.6" rx="27" ry="7"/><ellipse cx="1492" cy="905.6" rx="27" ry="7"/><ellipse cx="1558" cy="905.6" rx="27" ry="7"/><ellipse cx="1624" cy="905.6" rx="27" ry="7"/><ellipse cx="1690" cy="905.6" rx="27" ry="7"/><ellipse cx="1756" cy="905.6" rx="27" ry="7"/><ellipse cx="1822" cy="905.6" rx="27" ry="7"/><ellipse cx="1888" cy="905.6" rx="27" ry="7"/><ellipse cx="1954" cy="905.6" rx="27" ry="7"/><ellipse cx="2020" cy="905.6" rx="27" ry="7"/><ellipse cx="2086" cy="905.6" rx="27" ry="7"/><ellipse cx="1261" cy="916.2" rx="27" ry="7"/><ellipse cx="1327" cy="916.2" rx="27" ry="7"/><ellipse cx="1393" cy="916.2" rx="27" ry="7"/><ellipse cx="1459" cy="916.2" rx="27" ry="7"/><ellipse cx="1525" cy="916.2" rx="27" ry="7"/><ellipse cx="1591" cy="916.2" rx="27" ry="7"/><ellipse cx="1657" cy="916.2" rx="27" ry="7"/><ellipse cx="1723" cy="916.2" rx="27" ry="7"/><ellipse cx="1789" cy="916.2" rx="27" ry="7"/><ellipse cx="1855" cy="916.2" rx="27" ry="7"/><ellipse cx="1921" cy="916.2" rx="27" ry="7"/><ellipse cx="1987" cy="916.2" rx="27" ry="7"/><ellipse cx="2053" cy="916.2" rx="27" ry="7"/><ellipse cx="1228" cy="926.8" rx="27" ry="7"/><ellipse cx="1294" cy="926.8" rx="27" ry="7"/><ellipse cx="1360" cy="926.8" rx="27" ry="7"/><ellipse cx="1426" cy="926.8" rx="27" ry="7"/><ellipse cx="1492" cy="926.8" rx="27" ry="7"/><ellipse cx="1558" cy="926.8" rx="27" ry="7"/><ellipse cx="1624" cy="926.8" rx="27" ry="7"/><ellipse cx="1690" cy="926.8" rx="27" ry="7"/><ellipse cx="1756" cy="926.8" rx="27" ry="7"/><ellipse cx="1822" cy="926.8" rx="27" ry="7"/><ellipse cx="1888" cy="926.8" rx="27" ry="7"/><ellipse cx="1954" cy="926.8" rx="27" ry="7"/><ellipse cx="2020" cy="926.8" rx="27" ry="7"/><ellipse cx="2086" cy="926.8" rx="27" ry="7"/><ellipse cx="1261" cy="937.4" rx="27" ry="7"/><ellipse cx="1327" cy="937.4" rx="27" ry="7"/><ellipse cx="1393" cy="937.4" rx="27" ry="7"/><ellipse cx="1459" cy="937.4" rx="27" ry="7"/><ellipse cx="1525" cy="937.4" rx="27" ry="7"/><ellipse cx="1591" cy="937.4" rx="27" ry="7"/><ellipse cx="1657" cy="937.4" rx="27" ry="7"/><ellipse cx="1723" cy="937.4" rx="27" ry="7"/><ellipse cx="1789" cy="937.4" rx="27" ry="7"/><ellipse cx="1855" cy="937.4" rx="27" ry="7"/><ellipse cx="1921" cy="937.4" rx="27" ry="7"/><ellipse cx="1987" cy="937.4" rx="27" ry="7"/><ellipse cx="2053" cy="937.4" rx="27" ry="7"/><ellipse cx="1228" cy="948.0" rx="27" ry="7"/><ellipse cx="1294" cy="948.0" rx="27" ry="7"/><ellipse cx="1360" cy="948.0" rx="27" ry="7"/><ellipse cx="1426" cy="948.0" rx="27" ry="7"/><ellipse cx="1492" cy="948.0" rx="27" ry="7"/><ellipse cx="1558" cy="948.0" rx="27" ry="7"/><ellipse cx="1624" cy="948.0" rx="27" ry="7"/><ellipse cx="1690" cy="948.0" rx="27" ry="7"/><ellipse cx="1756" cy="948.0" rx="27" ry="7"/><ellipse cx="1822" cy="948.0" rx="27" ry="7"/><ellipse cx="1888" cy="948.0" rx="27" ry="7"/><ellipse cx="1954" cy="948.0" rx="27" ry="7"/><ellipse cx="2020" cy="948.0" rx="27" ry="7"/><ellipse cx="2086" cy="948.0" rx="27" ry="7"/><ellipse cx="1261" cy="958.6" rx="27" ry="7"/><ellipse cx="1327" cy="958.6" rx="27" ry="7"/><ellipse cx="1393" cy="958.6" rx="27" ry="7"/><ellipse cx="1459" cy="958.6" rx="27" ry="7"/><ellipse cx="1525" cy="958.6" rx="27" ry="7"/><ellipse cx="1591" cy="958.6" rx="27" ry="7"/><ellipse cx="1657" cy="958.6" rx="27" ry="7"/><ellipse cx="1723" cy="958.6" rx="27" ry="7"/><ellipse cx="1789" cy="958.6" rx="27" ry="7"/><ellipse cx="1855" cy="958.6" rx="27" ry="7"/><ellipse cx="1921" cy="958.6" rx="27" ry="7"/><ellipse cx="1987" cy="958.6" rx="27" ry="7"/><ellipse cx="2053" cy="958.6" rx="27" ry="7"/><ellipse cx="1228" cy="969.2" rx="27" ry="7"/><ellipse cx="1294" cy="969.2" rx="27" ry="7"/><ellipse cx="1360" cy="969.2" rx="27" ry="7"/><ellipse cx="1426" cy="969.2" rx="27" ry="7"/><ellipse cx="1492" cy="969.2" rx="27" ry="7"/><ellipse cx="1558" cy="969.2" rx="27" ry="7"/><ellipse cx="1624" cy="969.2" rx="27" ry="7"/><ellipse cx="1690" cy="969.2" rx="27" ry="7"/><ellipse cx="1756" cy="969.2" rx="27" ry="7"/><ellipse cx="1822" cy="969.2" rx="27" ry="7"/><ellipse cx="1888" cy="969.2" rx="27" ry="7"/><ellipse cx="1954" cy="969.2" rx="27" ry="7"/><ellipse cx="2020" cy="969.2" rx="27" ry="7"/><ellipse cx="2086" cy="969.2" rx="27" ry="7"/><ellipse cx="1261" cy="979.8" rx="27" ry="7"/><ellipse cx="1327" cy="979.8" rx="27" ry="7"/><ellipse cx="1393" cy="979.8" rx="27" ry="7"/><ellipse cx="1459" cy="979.8" rx="27" ry="7"/><ellipse cx="1525" cy="979.8" rx="27" ry="7"/><ellipse cx="1591" cy="979.8" rx="27" ry="7"/><ellipse cx="1657" cy="979.8" rx="27" ry="7"/><ellipse cx="1723" cy="979.8" rx="27" ry="7"/><ellipse cx="1789" cy="979.8" rx="27" ry="7"/><ellipse cx="1855" cy="979.8" rx="27" ry="7"/><ellipse cx="1921" cy="979.8" rx="27" ry="7"/><ellipse cx="1987" cy="979.8" rx="27" ry="7"/><ellipse cx="2053" cy="979.8" rx="27" ry="7"/><ellipse cx="1228" cy="990.4" rx="27" ry="7"/><ellipse cx="1294" cy="990.4" rx="27" ry="7"/><ellipse cx="1360" cy="990.4" rx="27" ry="7"/><ellipse cx="1426" cy="990.4" rx="27" ry="7"/><ellipse cx="1492" cy="990.4" rx="27" ry="7"/><ellipse cx="1558" cy="990.4" rx="27" ry="7"/><ellipse cx="1624" cy="990.4" rx="27" ry="7"/><ellipse cx="1690" cy="990.4" rx="27" ry="7"/><ellipse cx="1756" cy="990.4" rx="27" ry="7"/><ellipse cx="1822" cy="990.4" rx="27" ry="7"/><ellipse cx="1888" cy="990.4" rx="27" ry="7"/><ellipse cx="1954" cy="990.4" rx="27" ry="7"/><ellipse cx="2020" cy="990.4" rx="27" ry="7"/><ellipse cx="2086" cy="990.4" rx="27" ry="7"/></g><clipPath id="cpDarkBg"><polygon points="1292.0,1058.0 2048.0,1058.0 2048.0,884.0 1396.0,886.0"/><polygon points="1219.0,1058.0 1292.0,1058.0 1392.0,890.0 1352.0,890.0"/></clipPath><linearGradient id="gWireB0" gradientUnits="userSpaceOnUse" x1="1140" y1="0" x2="1700" y2="0"><stop offset="0" stop-color="#7d8287"/><stop offset="0.35" stop-color="#6a6e72"/><stop offset="1" stop-color="#45484b"/></linearGradient><linearGradient id="gWireB1" gradientUnits="userSpaceOnUse" x1="1140" y1="0" x2="1700" y2="0"><stop offset="0" stop-color="#8f9499"/><stop offset="0.35" stop-color="#787c80"/><stop offset="1" stop-color="#55585b"/></linearGradient><linearGradient id="gWireB2" gradientUnits="userSpaceOnUse" x1="1140" y1="0" x2="1700" y2="0"><stop offset="0" stop-color="#a5a9ad"/><stop offset="0.35" stop-color="#8c9094"/><stop offset="1" stop-color="#6d7073"/></linearGradient><g id="stad" fill="none"><rect class="a" x="1149" y="982" width="70" height="20" rx="10"/><rect class="b" x="1186" y="966" width="70" height="18" rx="9"/><rect class="a" x="1223" y="982" width="70" height="20" rx="10"/><rect class="b" x="1260" y="966" width="70" height="18" rx="9"/><rect class="a" x="1297" y="982" width="70" height="20" rx="10"/><rect class="b" x="1334" y="966" width="70" height="18" rx="9"/><rect class="a" x="1371" y="982" width="70" height="20" rx="10"/><rect class="b" x="1408" y="966" width="70" height="18" rx="9"/><rect class="a" x="1445" y="982" width="70" height="20" rx="10"/><rect class="b" x="1482" y="966" width="70" height="18" rx="9"/><rect class="a" x="1519" y="982" width="70" height="20" rx="10"/><rect class="b" x="1556" y="966" width="70" height="18" rx="9"/><rect class="a" x="1593" y="982" width="70" height="20" rx="10"/><rect class="b" x="1630" y="966" width="70" height="18" rx="9"/><rect class="a" x="1667" y="982" width="70" height="20" rx="10"/><rect class="b" x="1704" y="966" width="70" height="18" rx="9"/><rect class="a" x="1741" y="982" width="70" height="20" rx="10"/><rect class="b" x="1778" y="966" width="70" height="18" rx="9"/><rect class="a" x="1815" y="982" width="70" height="20" rx="10"/><rect class="b" x="1852" y="966" width="70" height="18" rx="9"/><rect class="a" x="1889" y="982" width="70" height="20" rx="10"/><rect class="b" x="1926" y="966" width="70" height="18" rx="9"/><rect class="a" x="1963" y="982" width="70" height="20" rx="10"/><rect class="b" x="2000" y="966" width="70" height="18" rx="9"/><rect class="a" x="2037" y="982" width="70" height="20" rx="10"/><rect class="b" x="2074" y="966" width="70" height="18" rx="9"/></g>
<linearGradient id="gFelt1sh" gradientUnits="userSpaceOnUse" x1="0" y1="659" x2="0" y2="756">
 <stop offset="0" stop-color="#0b0c0f" stop-opacity="0.88"/><stop offset="0.4" stop-color="#0b0c0f" stop-opacity="0.68"/><stop offset="0.7" stop-color="#0b0c0f" stop-opacity="0.42"/><stop offset="0.9" stop-color="#0b0c0f" stop-opacity="0.18"/><stop offset="1" stop-color="#0b0c0f" stop-opacity="0.03"/></linearGradient>
<linearGradient id="gMaskX1" gradientUnits="userSpaceOnUse" x1="1040" y1="0" x2="1640" y2="0">
 <stop offset="0" stop-color="#fff" stop-opacity="0"/><stop offset="0.1" stop-color="#fff" stop-opacity="0.08"/><stop offset="0.27" stop-color="#fff" stop-opacity="0.27"/><stop offset="0.45" stop-color="#fff" stop-opacity="0.52"/><stop offset="0.6" stop-color="#fff" stop-opacity="0.74"/><stop offset="0.8" stop-color="#fff" stop-opacity="0.92"/><stop offset="1" stop-color="#fff" stop-opacity="1"/></linearGradient>
<mask id="mX1" maskUnits="userSpaceOnUse" x="900" y="400" width="1200" height="500" style="mask-type:alpha"><rect x="900" y="400" width="1200" height="500" fill="url(#gMaskX1)"/></mask>

<linearGradient id="gCocoSh" gradientUnits="userSpaceOnUse" x1="0" y1="553" x2="0" y2="659">
 <stop offset="0" stop-color="#150b06" stop-opacity="0.82"/><stop offset="0.25" stop-color="#150b06" stop-opacity="0.66"/><stop offset="0.55" stop-color="#150b06" stop-opacity="0.44"/><stop offset="0.85" stop-color="#150b06" stop-opacity="0.22"/><stop offset="1" stop-color="#150b06" stop-opacity="0.05"/></linearGradient>
<linearGradient id="gMaskX3" gradientUnits="userSpaceOnUse" x1="1000" y1="0" x2="1700" y2="0">
 <stop offset="0" stop-color="#fff" stop-opacity="0.1"/><stop offset="0.3" stop-color="#fff" stop-opacity="0.5"/><stop offset="0.7" stop-color="#fff" stop-opacity="0.78"/><stop offset="1" stop-color="#fff" stop-opacity="1"/></linearGradient>
<mask id="mX3" maskUnits="userSpaceOnUse" x="900" y="400" width="1200" height="500" style="mask-type:alpha"><rect x="900" y="400" width="1200" height="500" fill="url(#gMaskX3)"/></mask>
<linearGradient id="gCoco" gradientUnits="userSpaceOnUse" x1="0" y1="553" x2="0" y2="659">
 <stop offset="0" stop-color="#7e5039"/><stop offset="0.8" stop-color="#8a5940"/><stop offset="1" stop-color="#a06b4b"/></linearGradient>

<linearGradient id="gFoamTop" gradientUnits="userSpaceOnUse" x1="1000" y1="545" x2="1130" y2="415">
 <stop offset="0" stop-color="#cbcbd1"/><stop offset="0.5" stop-color="#d6d6db"/><stop offset="1" stop-color="#dfdfe3"/></linearGradient>
<linearGradient id="gFoamSh" gradientUnits="userSpaceOnUse" x1="0" y1="408" x2="0" y2="522">
 <stop offset="0" stop-color="#4e4e58" stop-opacity="0.6"/><stop offset="0.5" stop-color="#4e4e58" stop-opacity="0.4"/><stop offset="0.9" stop-color="#4e4e58" stop-opacity="0.16"/><stop offset="1" stop-color="#4e4e58" stop-opacity="0.05"/></linearGradient>
<linearGradient id="gFoamFront" gradientUnits="userSpaceOnUse" x1="0" y1="515" x2="0" y2="554">
 <stop offset="0" stop-color="#e2e2e6"/><stop offset="0.6" stop-color="#e0e0e4"/><stop offset="1" stop-color="#d0d0d5"/></linearGradient>
<linearGradient id="gMaskX2" gradientUnits="userSpaceOnUse" x1="1130" y1="0" x2="1850" y2="0">
 <stop offset="0" stop-color="#fff" stop-opacity="0"/><stop offset="0.3" stop-color="#fff" stop-opacity="0.25"/><stop offset="0.6" stop-color="#fff" stop-opacity="0.55"/><stop offset="1" stop-color="#fff" stop-opacity="1"/></linearGradient>
<mask id="mX2" maskUnits="userSpaceOnUse" x="900" y="380" width="1200" height="200" style="mask-type:alpha"><rect x="900" y="380" width="1200" height="200" fill="url(#gMaskX2)"/></mask>

<linearGradient id="gCovTrim" gradientUnits="userSpaceOnUse" x1="0" y1="395" x2="0" y2="414">
 <stop offset="0" stop-color="#e4e6ea"/><stop offset="0.6" stop-color="#d9dce2"/><stop offset="1" stop-color="#c4c8d1"/></linearGradient>
<linearGradient id="gCovTop" gradientUnits="userSpaceOnUse" x1="1700" y1="165" x2="1500" y2="400">
 <stop offset="0" stop-color="#9d9ea0"/><stop offset="0.6" stop-color="#a3a4a6"/><stop offset="1" stop-color="#abacae"/></linearGradient>
<linearGradient id="gCovEdge" gradientUnits="userSpaceOnUse" x1="0" y1="378" x2="0" y2="401">
 <stop offset="0" stop-color="#d0d1d3" stop-opacity="0"/><stop offset="0.45" stop-color="#d0d1d3" stop-opacity="0.55"/><stop offset="1" stop-color="#d8d9db" stop-opacity="0.9"/></linearGradient>
<clipPath id="cpCov"><path d="M1300,170 L962,388 Q954,395 968,396.5 L1536,398.5 L2048,401.5 L2048,165.5 L1318,166.5 Q1306,166.5 1300,170 Z"/></clipPath><pattern id="weave" width="8" height="3.2" patternUnits="userSpaceOnUse"><rect x="0" y="0" width="8" height="1" fill="#000" opacity="0.05"/><rect x="0" y="1.6" width="8" height="0.8" fill="#fff" opacity="0.07"/></pattern></defs><polygon points="1100.0,1400.0 1168.0,1296.0 2048.0,1296.0 2048.0,1400.0" fill="url(#gFloorX)"/><polygon points="1100.0,1400.0 1168.0,1296.0 2048.0,1296.0 2048.0,1400.0" fill="url(#dotsFloor)"/><g clip-path="url(#cpFloor)" filter="url(#blur1)"><path d="M1551,1355 q199,-9 397,-3" stroke="#9a9ca0" stroke-width="4.0" opacity="0.15" fill="none" stroke-linecap="round"/><path d="M1600,1361 q179,-15 358,-9" stroke="#1c1d20" stroke-width="3.2" opacity="0.23" fill="none" stroke-linecap="round"/><path d="M1749,1312 q207,-2 415,4" stroke="#9a9ca0" stroke-width="4.6" opacity="0.14" fill="none" stroke-linecap="round"/><path d="M1192,1352 q69,-13 138,-7" stroke="#1c1d20" stroke-width="3.0" opacity="0.18" fill="none" stroke-linecap="round"/><path d="M1541,1379 q138,-7 276,-1" stroke="#9a9ca0" stroke-width="4.0" opacity="0.18" fill="none" stroke-linecap="round"/><path d="M1408,1392 q209,-4 419,2" stroke="#1c1d20" stroke-width="4.8" opacity="0.15" fill="none" stroke-linecap="round"/><path d="M1417,1314 q175,-10 350,-4" stroke="#1c1d20" stroke-width="5.4" opacity="0.25" fill="none" stroke-linecap="round"/><path d="M1875,1308 q91,-3 183,3" stroke="#9a9ca0" stroke-width="3.9" opacity="0.18" fill="none" stroke-linecap="round"/><path d="M1240,1361 q177,-12 354,-6" stroke="#1c1d20" stroke-width="2.3" opacity="0.25" fill="none" stroke-linecap="round"/><path d="M1802,1318 q97,-15 194,-9" stroke="#9a9ca0" stroke-width="2.2" opacity="0.14" fill="none" stroke-linecap="round"/><path d="M1639,1346 q89,-6 177,0" stroke="#9a9ca0" stroke-width="2.5" opacity="0.14" fill="none" stroke-linecap="round"/><path d="M1525,1326 q100,-2 201,4" stroke="#1c1d20" stroke-width="5.2" opacity="0.24" fill="none" stroke-linecap="round"/><path d="M1353,1341 q188,-7 376,-1" stroke="#9a9ca0" stroke-width="2.4" opacity="0.15" fill="none" stroke-linecap="round"/><path d="M1392,1373 q109,-12 219,-6" stroke="#1c1d20" stroke-width="2.3" opacity="0.20" fill="none" stroke-linecap="round"/><path d="M1379,1359 q116,-10 232,-4" stroke="#1c1d20" stroke-width="5.8" opacity="0.20" fill="none" stroke-linecap="round"/><path d="M1891,1323 q83,-3 166,3" stroke="#1c1d20" stroke-width="5.3" opacity="0.15" fill="none" stroke-linecap="round"/><path d="M1786,1387 q89,-3 179,3" stroke="#9a9ca0" stroke-width="5.5" opacity="0.18" fill="none" stroke-linecap="round"/><path d="M1265,1311 q204,-13 409,-7" stroke="#1c1d20" stroke-width="4.8" opacity="0.24" fill="none" stroke-linecap="round"/><path d="M1669,1333 q86,-6 173,0" stroke="#1c1d20" stroke-width="2.3" opacity="0.20" fill="none" stroke-linecap="round"/><path d="M1879,1360 q102,-3 204,3" stroke="#1c1d20" stroke-width="2.8" opacity="0.16" fill="none" stroke-linecap="round"/><path d="M1545,1313 q86,-11 173,-5" stroke="#1c1d20" stroke-width="4.3" opacity="0.17" fill="none" stroke-linecap="round"/><path d="M1911,1390 q159,-6 317,-0" stroke="#1c1d20" stroke-width="4.3" opacity="0.12" fill="none" stroke-linecap="round"/><path d="M1195,1384 q165,-3 330,3" stroke="#9a9ca0" stroke-width="2.1" opacity="0.19" fill="none" stroke-linecap="round"/><path d="M1779,1335 q210,-15 420,-9" stroke="#9a9ca0" stroke-width="4.2" opacity="0.25" fill="none" stroke-linecap="round"/><path d="M1784,1367 q179,-3 358,3" stroke="#9a9ca0" stroke-width="3.4" opacity="0.25" fill="none" stroke-linecap="round"/><path d="M1894,1343 q179,-4 357,2" stroke="#9a9ca0" stroke-width="4.3" opacity="0.17" fill="none" stroke-linecap="round"/><path d="M1658,1359 q72,-7 144,-1" stroke="#9a9ca0" stroke-width="6.0" opacity="0.22" fill="none" stroke-linecap="round"/><path d="M1499,1370 q147,-10 294,-4" stroke="#1c1d20" stroke-width="5.4" opacity="0.23" fill="none" stroke-linecap="round"/><path d="M1204,1359 q132,-13 264,-7" stroke="#1c1d20" stroke-width="4.8" opacity="0.21" fill="none" stroke-linecap="round"/><path d="M1935,1329 q62,-12 123,-6" stroke="#1c1d20" stroke-width="4.7" opacity="0.14" fill="none" stroke-linecap="round"/><path d="M1923,1363 q126,-4 253,2" stroke="#9a9ca0" stroke-width="3.3" opacity="0.15" fill="none" stroke-linecap="round"/><path d="M1533,1376 q197,-4 394,2" stroke="#9a9ca0" stroke-width="3.5" opacity="0.16" fill="none" stroke-linecap="round"/><path d="M1292,1350 q186,-4 371,2" stroke="#9a9ca0" stroke-width="4.8" opacity="0.16" fill="none" stroke-linecap="round"/><path d="M1319,1346 q101,-13 203,-7" stroke="#9a9ca0" stroke-width="3.7" opacity="0.19" fill="none" stroke-linecap="round"/></g><polygon points="1100.0,1400.0 1168.0,1296.0 2048.0,1296.0 2048.0,1400.0" fill="url(#gFloorY)"/><polygon points="994.0,1386.0 1080.0,1226.0 1225.0,1226.0 1108.0,1400.0 1000.0,1400.0" fill="url(#gWall)"/><g clip-path="url(#cpWall)"><path d="M1003,1372 c14,-30 40,-30 44,-4 c4,22 22,20 36,-8" stroke="#5c5d5a" stroke-width="2.2" fill="none" opacity="0.5"/><path d="M1015,1351 c14,-30 40,-30 44,-4 c4,22 22,20 36,-8" stroke="#5c5d5a" stroke-width="2.2" fill="none" opacity="0.5"/><path d="M1026,1329 c14,-30 40,-30 44,-4 c4,22 22,20 36,-8" stroke="#5c5d5a" stroke-width="2.2" fill="none" opacity="0.5"/><path d="M1038,1308 c14,-30 40,-30 44,-4 c4,22 22,20 36,-8" stroke="#5c5d5a" stroke-width="2.2" fill="none" opacity="0.5"/><path d="M1050,1287 c14,-30 40,-30 44,-4 c4,22 22,20 36,-8" stroke="#5c5d5a" stroke-width="2.2" fill="none" opacity="0.5"/><path d="M1061,1265 c14,-30 40,-30 44,-4 c4,22 22,20 36,-8" stroke="#5c5d5a" stroke-width="2.2" fill="none" opacity="0.5"/><path d="M1073,1244 c14,-30 40,-30 44,-4 c4,22 22,20 36,-8" stroke="#5c5d5a" stroke-width="2.2" fill="none" opacity="0.5"/></g><path d="M995,1385 L1081,1226" stroke="#7a7b79" stroke-width="4" fill="none"/><path d="M994,1391 C993,1381 999,1381 1008,1388 L1040,1396.5 L1240,1398 L2048,1398.5 L2048,1592 L1014,1592 C1003,1588 1000,1578 1000,1566 Z" fill="url(#gFront)"/><g clip-path="url(#cpFront)"><rect x="990" y="1380" width="1060" height="215" fill="url(#dots)"/><path d="M848.7,1466.4 C851.9,1468.9 862.9,1475.4 867.7,1481.4 C872.5,1487.4 875.4,1494.4 877.7,1502.4 C880.0,1510.4 878.0,1520.6 881.7,1529.4 C885.4,1538.2 889.4,1549.1 899.7,1555.4 C910.0,1561.7 930.5,1566.6 943.7,1567.4 C956.9,1568.2 969.7,1565.4 978.7,1560.4 C987.7,1555.4 994.0,1545.2 997.7,1537.4 C1001.4,1529.6 998.9,1521.6 1000.7,1513.4 C1002.5,1505.2 1005.0,1495.7 1008.7,1488.4 C1012.4,1481.1 1016.9,1473.7 1022.7,1469.4 C1028.5,1465.1 1036.9,1462.9 1043.7,1462.4 C1050.5,1461.9 1057.0,1463.2 1063.4,1466.4 C1069.9,1469.6 1077.6,1475.4 1082.4,1481.4 C1087.2,1487.4 1090.1,1494.4 1092.4,1502.4 C1094.7,1510.4 1092.7,1520.6 1096.4,1529.4 C1100.1,1538.2 1104.1,1549.1 1114.4,1555.4 C1124.7,1561.7 1145.2,1566.6 1158.4,1567.4 C1171.6,1568.2 1184.4,1565.4 1193.4,1560.4 C1202.4,1555.4 1208.7,1545.2 1212.4,1537.4 C1216.1,1529.6 1213.6,1521.6 1215.4,1513.4 C1217.2,1505.2 1219.7,1495.7 1223.4,1488.4 C1227.1,1481.1 1231.6,1473.7 1237.4,1469.4 C1243.2,1465.1 1251.6,1462.9 1258.4,1462.4 C1265.2,1461.9 1271.7,1463.2 1278.1,1466.4 C1284.6,1469.6 1292.3,1475.4 1297.1,1481.4 C1301.9,1487.4 1304.8,1494.4 1307.1,1502.4 C1309.4,1510.4 1307.4,1520.6 1311.1,1529.4 C1314.8,1538.2 1318.8,1549.1 1329.1,1555.4 C1339.4,1561.7 1359.9,1566.6 1373.1,1567.4 C1386.3,1568.2 1399.1,1565.4 1408.1,1560.4 C1417.1,1555.4 1423.4,1545.2 1427.1,1537.4 C1430.8,1529.6 1428.3,1521.6 1430.1,1513.4 C1431.9,1505.2 1434.4,1495.7 1438.1,1488.4 C1441.8,1481.1 1446.3,1473.7 1452.1,1469.4 C1457.9,1465.1 1466.3,1462.9 1473.1,1462.4 C1479.9,1461.9 1486.4,1463.2 1492.8,1466.4 C1499.3,1469.6 1507.0,1475.4 1511.8,1481.4 C1516.6,1487.4 1519.5,1494.4 1521.8,1502.4 C1524.1,1510.4 1522.1,1520.6 1525.8,1529.4 C1529.5,1538.2 1533.5,1549.1 1543.8,1555.4 C1554.1,1561.7 1574.6,1566.6 1587.8,1567.4 C1601.0,1568.2 1613.8,1565.4 1622.8,1560.4 C1631.8,1555.4 1638.1,1545.2 1641.8,1537.4 C1645.5,1529.6 1643.0,1521.6 1644.8,1513.4 C1646.6,1505.2 1649.1,1495.7 1652.8,1488.4 C1656.5,1481.1 1661.0,1473.7 1666.8,1469.4 C1672.6,1465.1 1681.0,1462.9 1687.8,1462.4 C1694.6,1461.9 1701.0,1463.2 1707.5,1466.4 C1714.0,1469.6 1721.7,1475.4 1726.5,1481.4 C1731.3,1487.4 1734.2,1494.4 1736.5,1502.4 C1738.8,1510.4 1736.8,1520.6 1740.5,1529.4 C1744.2,1538.2 1748.2,1549.1 1758.5,1555.4 C1768.8,1561.7 1789.3,1566.6 1802.5,1567.4 C1815.7,1568.2 1828.5,1565.4 1837.5,1560.4 C1846.5,1555.4 1852.8,1545.2 1856.5,1537.4 C1860.2,1529.6 1857.7,1521.6 1859.5,1513.4 C1861.3,1505.2 1863.8,1495.7 1867.5,1488.4 C1871.2,1481.1 1875.7,1473.7 1881.5,1469.4 C1887.3,1465.1 1895.7,1462.9 1902.5,1462.4 C1909.3,1461.9 1915.8,1463.2 1922.2,1466.4 C1928.7,1469.6 1936.4,1475.4 1941.2,1481.4 C1946.0,1487.4 1948.9,1494.4 1951.2,1502.4 C1953.5,1510.4 1951.5,1520.6 1955.2,1529.4 C1958.9,1538.2 1962.9,1549.1 1973.2,1555.4 C1983.5,1561.7 2004.0,1566.6 2017.2,1567.4 C2030.4,1568.2 2043.2,1565.4 2052.2,1560.4 C2061.2,1555.4 2067.5,1545.2 2071.2,1537.4 C2074.9,1529.6 2072.4,1521.6 2074.2,1513.4 C2076.0,1505.2 2078.5,1495.7 2082.2,1488.4 C2085.9,1481.1 2090.4,1473.7 2096.2,1469.4 C2102.0,1465.1 2110.4,1462.9 2117.2,1462.4 C2124.0,1461.9 2130.4,1463.2 2136.9,1466.4 C2143.4,1469.6 2151.1,1475.4 2155.9,1481.4 C2160.7,1487.4 2163.6,1494.4 2165.9,1502.4 C2168.2,1510.4 2166.2,1520.6 2169.9,1529.4 C2173.6,1538.2 2177.6,1549.1 2187.9,1555.4 C2198.2,1561.7 2218.7,1566.6 2231.9,1567.4 C2245.1,1568.2 2257.9,1565.4 2266.9,1560.4 C2275.9,1555.4 2282.2,1545.2 2285.9,1537.4 C2289.6,1529.6 2287.1,1521.6 2288.9,1513.4 C2290.7,1505.2 2293.2,1495.7 2296.9,1488.4 C2300.6,1481.1 2305.1,1473.7 2310.9,1469.4 C2316.7,1465.1 2328.4,1463.6 2331.9,1462.4" fill="none" stroke="#7d7e7f" stroke-width="10" opacity="0.6" stroke-linejoin="round"/><path d="M848.7,1466.4 C851.9,1468.9 862.9,1475.4 867.7,1481.4 C872.5,1487.4 875.4,1494.4 877.7,1502.4 C880.0,1510.4 878.0,1520.6 881.7,1529.4 C885.4,1538.2 889.4,1549.1 899.7,1555.4 C910.0,1561.7 930.5,1566.6 943.7,1567.4 C956.9,1568.2 969.7,1565.4 978.7,1560.4 C987.7,1555.4 994.0,1545.2 997.7,1537.4 C1001.4,1529.6 998.9,1521.6 1000.7,1513.4 C1002.5,1505.2 1005.0,1495.7 1008.7,1488.4 C1012.4,1481.1 1016.9,1473.7 1022.7,1469.4 C1028.5,1465.1 1036.9,1462.9 1043.7,1462.4 C1050.5,1461.9 1057.0,1463.2 1063.4,1466.4 C1069.9,1469.6 1077.6,1475.4 1082.4,1481.4 C1087.2,1487.4 1090.1,1494.4 1092.4,1502.4 C1094.7,1510.4 1092.7,1520.6 1096.4,1529.4 C1100.1,1538.2 1104.1,1549.1 1114.4,1555.4 C1124.7,1561.7 1145.2,1566.6 1158.4,1567.4 C1171.6,1568.2 1184.4,1565.4 1193.4,1560.4 C1202.4,1555.4 1208.7,1545.2 1212.4,1537.4 C1216.1,1529.6 1213.6,1521.6 1215.4,1513.4 C1217.2,1505.2 1219.7,1495.7 1223.4,1488.4 C1227.1,1481.1 1231.6,1473.7 1237.4,1469.4 C1243.2,1465.1 1251.6,1462.9 1258.4,1462.4 C1265.2,1461.9 1271.7,1463.2 1278.1,1466.4 C1284.6,1469.6 1292.3,1475.4 1297.1,1481.4 C1301.9,1487.4 1304.8,1494.4 1307.1,1502.4 C1309.4,1510.4 1307.4,1520.6 1311.1,1529.4 C1314.8,1538.2 1318.8,1549.1 1329.1,1555.4 C1339.4,1561.7 1359.9,1566.6 1373.1,1567.4 C1386.3,1568.2 1399.1,1565.4 1408.1,1560.4 C1417.1,1555.4 1423.4,1545.2 1427.1,1537.4 C1430.8,1529.6 1428.3,1521.6 1430.1,1513.4 C1431.9,1505.2 1434.4,1495.7 1438.1,1488.4 C1441.8,1481.1 1446.3,1473.7 1452.1,1469.4 C1457.9,1465.1 1466.3,1462.9 1473.1,1462.4 C1479.9,1461.9 1486.4,1463.2 1492.8,1466.4 C1499.3,1469.6 1507.0,1475.4 1511.8,1481.4 C1516.6,1487.4 1519.5,1494.4 1521.8,1502.4 C1524.1,1510.4 1522.1,1520.6 1525.8,1529.4 C1529.5,1538.2 1533.5,1549.1 1543.8,1555.4 C1554.1,1561.7 1574.6,1566.6 1587.8,1567.4 C1601.0,1568.2 1613.8,1565.4 1622.8,1560.4 C1631.8,1555.4 1638.1,1545.2 1641.8,1537.4 C1645.5,1529.6 1643.0,1521.6 1644.8,1513.4 C1646.6,1505.2 1649.1,1495.7 1652.8,1488.4 C1656.5,1481.1 1661.0,1473.7 1666.8,1469.4 C1672.6,1465.1 1681.0,1462.9 1687.8,1462.4 C1694.6,1461.9 1701.0,1463.2 1707.5,1466.4 C1714.0,1469.6 1721.7,1475.4 1726.5,1481.4 C1731.3,1487.4 1734.2,1494.4 1736.5,1502.4 C1738.8,1510.4 1736.8,1520.6 1740.5,1529.4 C1744.2,1538.2 1748.2,1549.1 1758.5,1555.4 C1768.8,1561.7 1789.3,1566.6 1802.5,1567.4 C1815.7,1568.2 1828.5,1565.4 1837.5,1560.4 C1846.5,1555.4 1852.8,1545.2 1856.5,1537.4 C1860.2,1529.6 1857.7,1521.6 1859.5,1513.4 C1861.3,1505.2 1863.8,1495.7 1867.5,1488.4 C1871.2,1481.1 1875.7,1473.7 1881.5,1469.4 C1887.3,1465.1 1895.7,1462.9 1902.5,1462.4 C1909.3,1461.9 1915.8,1463.2 1922.2,1466.4 C1928.7,1469.6 1936.4,1475.4 1941.2,1481.4 C1946.0,1487.4 1948.9,1494.4 1951.2,1502.4 C1953.5,1510.4 1951.5,1520.6 1955.2,1529.4 C1958.9,1538.2 1962.9,1549.1 1973.2,1555.4 C1983.5,1561.7 2004.0,1566.6 2017.2,1567.4 C2030.4,1568.2 2043.2,1565.4 2052.2,1560.4 C2061.2,1555.4 2067.5,1545.2 2071.2,1537.4 C2074.9,1529.6 2072.4,1521.6 2074.2,1513.4 C2076.0,1505.2 2078.5,1495.7 2082.2,1488.4 C2085.9,1481.1 2090.4,1473.7 2096.2,1469.4 C2102.0,1465.1 2110.4,1462.9 2117.2,1462.4 C2124.0,1461.9 2130.4,1463.2 2136.9,1466.4 C2143.4,1469.6 2151.1,1475.4 2155.9,1481.4 C2160.7,1487.4 2163.6,1494.4 2165.9,1502.4 C2168.2,1510.4 2166.2,1520.6 2169.9,1529.4 C2173.6,1538.2 2177.6,1549.1 2187.9,1555.4 C2198.2,1561.7 2218.7,1566.6 2231.9,1567.4 C2245.1,1568.2 2257.9,1565.4 2266.9,1560.4 C2275.9,1555.4 2282.2,1545.2 2285.9,1537.4 C2289.6,1529.6 2287.1,1521.6 2288.9,1513.4 C2290.7,1505.2 2293.2,1495.7 2296.9,1488.4 C2300.6,1481.1 2305.1,1473.7 2310.9,1469.4 C2316.7,1465.1 2328.4,1463.6 2331.9,1462.4" fill="none" stroke="#dedfe0" stroke-width="1.7" stroke-dasharray="3 2" opacity="0.8" transform="translate(1.5,5.2)"/><path d="M799.3,1518.0 C802.8,1516.8 814.5,1515.3 820.3,1511.0 C826.1,1506.7 830.6,1499.3 834.3,1492.0 C838.0,1484.7 840.5,1475.2 842.3,1467.0 C844.1,1458.8 841.6,1450.8 845.3,1443.0 C849.0,1435.2 855.3,1425.0 864.3,1420.0 C873.3,1415.0 886.1,1412.2 899.3,1413.0 C912.5,1413.8 933.0,1418.7 943.3,1425.0 C953.6,1431.3 957.6,1442.2 961.3,1451.0 C965.0,1459.8 963.0,1470.0 965.3,1478.0 C967.6,1486.0 970.5,1493.0 975.3,1499.0 C980.1,1505.0 987.8,1510.8 994.3,1514.0 C1000.8,1517.2 1007.2,1518.5 1014.0,1518.0 C1020.8,1517.5 1029.2,1515.3 1035.0,1511.0 C1040.8,1506.7 1045.3,1499.3 1049.0,1492.0 C1052.7,1484.7 1055.2,1475.2 1057.0,1467.0 C1058.8,1458.8 1056.3,1450.8 1060.0,1443.0 C1063.7,1435.2 1070.0,1425.0 1079.0,1420.0 C1088.0,1415.0 1100.8,1412.2 1114.0,1413.0 C1127.2,1413.8 1147.7,1418.7 1158.0,1425.0 C1168.3,1431.3 1172.3,1442.2 1176.0,1451.0 C1179.7,1459.8 1177.7,1470.0 1180.0,1478.0 C1182.3,1486.0 1185.2,1493.0 1190.0,1499.0 C1194.8,1505.0 1202.5,1510.8 1209.0,1514.0 C1215.5,1517.2 1221.9,1518.5 1228.7,1518.0 C1235.5,1517.5 1243.9,1515.3 1249.7,1511.0 C1255.5,1506.7 1260.0,1499.3 1263.7,1492.0 C1267.4,1484.7 1269.9,1475.2 1271.7,1467.0 C1273.5,1458.8 1271.0,1450.8 1274.7,1443.0 C1278.4,1435.2 1284.7,1425.0 1293.7,1420.0 C1302.7,1415.0 1315.5,1412.2 1328.7,1413.0 C1341.9,1413.8 1362.4,1418.7 1372.7,1425.0 C1383.0,1431.3 1387.0,1442.2 1390.7,1451.0 C1394.4,1459.8 1392.4,1470.0 1394.7,1478.0 C1397.0,1486.0 1399.9,1493.0 1404.7,1499.0 C1409.5,1505.0 1417.2,1510.8 1423.7,1514.0 C1430.2,1517.2 1436.6,1518.5 1443.4,1518.0 C1450.2,1517.5 1458.6,1515.3 1464.4,1511.0 C1470.2,1506.7 1474.7,1499.3 1478.4,1492.0 C1482.1,1484.7 1484.6,1475.2 1486.4,1467.0 C1488.2,1458.8 1485.7,1450.8 1489.4,1443.0 C1493.1,1435.2 1499.4,1425.0 1508.4,1420.0 C1517.4,1415.0 1530.2,1412.2 1543.4,1413.0 C1556.6,1413.8 1577.1,1418.7 1587.4,1425.0 C1597.7,1431.3 1601.7,1442.2 1605.4,1451.0 C1609.1,1459.8 1607.1,1470.0 1609.4,1478.0 C1611.7,1486.0 1614.6,1493.0 1619.4,1499.0 C1624.2,1505.0 1632.0,1510.8 1638.4,1514.0 C1644.9,1517.2 1651.3,1518.5 1658.1,1518.0 C1664.9,1517.5 1673.3,1515.3 1679.1,1511.0 C1684.9,1506.7 1689.4,1499.3 1693.1,1492.0 C1696.8,1484.7 1699.3,1475.2 1701.1,1467.0 C1702.9,1458.8 1700.4,1450.8 1704.1,1443.0 C1707.8,1435.2 1714.1,1425.0 1723.1,1420.0 C1732.1,1415.0 1744.9,1412.2 1758.1,1413.0 C1771.3,1413.8 1791.8,1418.7 1802.1,1425.0 C1812.4,1431.3 1816.4,1442.2 1820.1,1451.0 C1823.8,1459.8 1821.8,1470.0 1824.1,1478.0 C1826.4,1486.0 1829.3,1493.0 1834.1,1499.0 C1838.9,1505.0 1846.6,1510.8 1853.1,1514.0 C1859.5,1517.2 1866.0,1518.5 1872.8,1518.0 C1879.6,1517.5 1888.0,1515.3 1893.8,1511.0 C1899.6,1506.7 1904.1,1499.3 1907.8,1492.0 C1911.5,1484.7 1914.0,1475.2 1915.8,1467.0 C1917.6,1458.8 1915.1,1450.8 1918.8,1443.0 C1922.5,1435.2 1928.8,1425.0 1937.8,1420.0 C1946.8,1415.0 1959.6,1412.2 1972.8,1413.0 C1986.0,1413.8 2006.5,1418.7 2016.8,1425.0 C2027.1,1431.3 2031.1,1442.2 2034.8,1451.0 C2038.5,1459.8 2036.5,1470.0 2038.8,1478.0 C2041.1,1486.0 2044.0,1493.0 2048.8,1499.0 C2053.6,1505.0 2061.4,1510.8 2067.8,1514.0 C2074.2,1517.2 2080.7,1518.5 2087.5,1518.0 C2094.3,1517.5 2102.7,1515.3 2108.5,1511.0 C2114.3,1506.7 2118.8,1499.3 2122.5,1492.0 C2126.2,1484.7 2128.7,1475.2 2130.5,1467.0 C2132.3,1458.8 2129.8,1450.8 2133.5,1443.0 C2137.2,1435.2 2143.5,1425.0 2152.5,1420.0 C2161.5,1415.0 2174.3,1412.2 2187.5,1413.0 C2200.7,1413.8 2221.2,1418.7 2231.5,1425.0 C2241.8,1431.3 2245.8,1442.2 2249.5,1451.0 C2253.2,1459.8 2251.2,1470.0 2253.5,1478.0 C2255.8,1486.0 2258.7,1493.0 2263.5,1499.0 C2268.3,1505.0 2279.3,1511.5 2282.5,1514.0" fill="none" stroke="#7d7e7f" stroke-width="10" opacity="0.6" stroke-linejoin="round"/><path d="M799.3,1518.0 C802.8,1516.8 814.5,1515.3 820.3,1511.0 C826.1,1506.7 830.6,1499.3 834.3,1492.0 C838.0,1484.7 840.5,1475.2 842.3,1467.0 C844.1,1458.8 841.6,1450.8 845.3,1443.0 C849.0,1435.2 855.3,1425.0 864.3,1420.0 C873.3,1415.0 886.1,1412.2 899.3,1413.0 C912.5,1413.8 933.0,1418.7 943.3,1425.0 C953.6,1431.3 957.6,1442.2 961.3,1451.0 C965.0,1459.8 963.0,1470.0 965.3,1478.0 C967.6,1486.0 970.5,1493.0 975.3,1499.0 C980.1,1505.0 987.8,1510.8 994.3,1514.0 C1000.8,1517.2 1007.2,1518.5 1014.0,1518.0 C1020.8,1517.5 1029.2,1515.3 1035.0,1511.0 C1040.8,1506.7 1045.3,1499.3 1049.0,1492.0 C1052.7,1484.7 1055.2,1475.2 1057.0,1467.0 C1058.8,1458.8 1056.3,1450.8 1060.0,1443.0 C1063.7,1435.2 1070.0,1425.0 1079.0,1420.0 C1088.0,1415.0 1100.8,1412.2 1114.0,1413.0 C1127.2,1413.8 1147.7,1418.7 1158.0,1425.0 C1168.3,1431.3 1172.3,1442.2 1176.0,1451.0 C1179.7,1459.8 1177.7,1470.0 1180.0,1478.0 C1182.3,1486.0 1185.2,1493.0 1190.0,1499.0 C1194.8,1505.0 1202.5,1510.8 1209.0,1514.0 C1215.5,1517.2 1221.9,1518.5 1228.7,1518.0 C1235.5,1517.5 1243.9,1515.3 1249.7,1511.0 C1255.5,1506.7 1260.0,1499.3 1263.7,1492.0 C1267.4,1484.7 1269.9,1475.2 1271.7,1467.0 C1273.5,1458.8 1271.0,1450.8 1274.7,1443.0 C1278.4,1435.2 1284.7,1425.0 1293.7,1420.0 C1302.7,1415.0 1315.5,1412.2 1328.7,1413.0 C1341.9,1413.8 1362.4,1418.7 1372.7,1425.0 C1383.0,1431.3 1387.0,1442.2 1390.7,1451.0 C1394.4,1459.8 1392.4,1470.0 1394.7,1478.0 C1397.0,1486.0 1399.9,1493.0 1404.7,1499.0 C1409.5,1505.0 1417.2,1510.8 1423.7,1514.0 C1430.2,1517.2 1436.6,1518.5 1443.4,1518.0 C1450.2,1517.5 1458.6,1515.3 1464.4,1511.0 C1470.2,1506.7 1474.7,1499.3 1478.4,1492.0 C1482.1,1484.7 1484.6,1475.2 1486.4,1467.0 C1488.2,1458.8 1485.7,1450.8 1489.4,1443.0 C1493.1,1435.2 1499.4,1425.0 1508.4,1420.0 C1517.4,1415.0 1530.2,1412.2 1543.4,1413.0 C1556.6,1413.8 1577.1,1418.7 1587.4,1425.0 C1597.7,1431.3 1601.7,1442.2 1605.4,1451.0 C1609.1,1459.8 1607.1,1470.0 1609.4,1478.0 C1611.7,1486.0 1614.6,1493.0 1619.4,1499.0 C1624.2,1505.0 1632.0,1510.8 1638.4,1514.0 C1644.9,1517.2 1651.3,1518.5 1658.1,1518.0 C1664.9,1517.5 1673.3,1515.3 1679.1,1511.0 C1684.9,1506.7 1689.4,1499.3 1693.1,1492.0 C1696.8,1484.7 1699.3,1475.2 1701.1,1467.0 C1702.9,1458.8 1700.4,1450.8 1704.1,1443.0 C1707.8,1435.2 1714.1,1425.0 1723.1,1420.0 C1732.1,1415.0 1744.9,1412.2 1758.1,1413.0 C1771.3,1413.8 1791.8,1418.7 1802.1,1425.0 C1812.4,1431.3 1816.4,1442.2 1820.1,1451.0 C1823.8,1459.8 1821.8,1470.0 1824.1,1478.0 C1826.4,1486.0 1829.3,1493.0 1834.1,1499.0 C1838.9,1505.0 1846.6,1510.8 1853.1,1514.0 C1859.5,1517.2 1866.0,1518.5 1872.8,1518.0 C1879.6,1517.5 1888.0,1515.3 1893.8,1511.0 C1899.6,1506.7 1904.1,1499.3 1907.8,1492.0 C1911.5,1484.7 1914.0,1475.2 1915.8,1467.0 C1917.6,1458.8 1915.1,1450.8 1918.8,1443.0 C1922.5,1435.2 1928.8,1425.0 1937.8,1420.0 C1946.8,1415.0 1959.6,1412.2 1972.8,1413.0 C1986.0,1413.8 2006.5,1418.7 2016.8,1425.0 C2027.1,1431.3 2031.1,1442.2 2034.8,1451.0 C2038.5,1459.8 2036.5,1470.0 2038.8,1478.0 C2041.1,1486.0 2044.0,1493.0 2048.8,1499.0 C2053.6,1505.0 2061.4,1510.8 2067.8,1514.0 C2074.2,1517.2 2080.7,1518.5 2087.5,1518.0 C2094.3,1517.5 2102.7,1515.3 2108.5,1511.0 C2114.3,1506.7 2118.8,1499.3 2122.5,1492.0 C2126.2,1484.7 2128.7,1475.2 2130.5,1467.0 C2132.3,1458.8 2129.8,1450.8 2133.5,1443.0 C2137.2,1435.2 2143.5,1425.0 2152.5,1420.0 C2161.5,1415.0 2174.3,1412.2 2187.5,1413.0 C2200.7,1413.8 2221.2,1418.7 2231.5,1425.0 C2241.8,1431.3 2245.8,1442.2 2249.5,1451.0 C2253.2,1459.8 2251.2,1470.0 2253.5,1478.0 C2255.8,1486.0 2258.7,1493.0 2263.5,1499.0 C2268.3,1505.0 2279.3,1511.5 2282.5,1514.0" fill="none" stroke="#dedfe0" stroke-width="1.7" stroke-dasharray="3 2" opacity="0.8" transform="translate(1.5,5.2)"/><path d="M1000,1392 L1040,1403 L2048,1405" stroke="#d9dadb" stroke-width="3.2" stroke-dasharray="3 2" fill="none" opacity="0.85"/><path d="M1003,1571 L1100,1573 L2048,1573.5" stroke="#d9dadb" stroke-width="3.2" stroke-dasharray="3 2" fill="none" opacity="0.85"/><polygon points="1648,1580 1722,1580 1830,1404 1778,1404" fill="#b3b4b5" opacity="0.6"/><text x="0" y="0" transform="translate(1626,1558) rotate(-37)" font-family="'Liberation Serif',serif" font-style="italic" font-size="78" fill="#8b8c8d" opacity="0.5" textLength="240" lengthAdjust="spacingAndGlyphs">Silver</text><rect x="990" y="1380" width="36" height="215" fill="#000" opacity="0.05"/></g><path d="M1000,1556 C1002,1576 1008,1584 1030,1585 L2048,1585 L2048,1595 L1026,1595 C1006,1594 1000,1578 1000,1556 Z" fill="url(#gTrimB)"/><polygon points="1176.0,1222.0 1131.0,1296.0 1133.0,1303.0 2048.0,1303.0 2048.0,1222.0" fill="url(#gFelt2)"/><polygon points="1176.0,1222.0 1131.0,1296.0 1133.0,1303.0 2048.0,1303.0 2048.0,1222.0" fill="#000" filter="url(#fNoise)" opacity="0.3"/><polygon points="1176.0,1222.0 1131.0,1296.0 1133.0,1303.0 2048.0,1303.0 2048.0,1222.0" fill="#fff" filter="url(#fNoiseW)" opacity="0.16"/><path d="M1132,1299.5 L2048,1299.5" stroke="#b3b6bb" stroke-width="6" opacity="0.7" stroke-dasharray="9 3 4 2 12 4" filter="url(#blurL)"/><path d="M1176,1222 L1131,1296" stroke="#a0a3a8" stroke-width="2" opacity="0.7"/><polygon points="1292.0,1058.0 2048.0,1058.0 2048.0,884.0 1396.0,886.0" fill="url(#gInFelt)"/><polygon points="1292.0,1058.0 2048.0,1058.0 2048.0,884.0 1396.0,886.0" fill="#000" filter="url(#fNoise)" opacity="0.2"/><polygon points="1292.0,1058.0 2048.0,1058.0 2048.0,884.0 1396.0,886.0" fill="#fff" filter="url(#fNoiseW)" opacity="0.1"/><polygon points="1219.0,1058.0 1292.0,1058.0 1392.0,890.0 1352.0,890.0" fill="#3b3b39"/><polygon points="1101.0,1058.0 1219.0,1058.0 1352.0,890.0 1237.0,890.0" fill="url(#gWallFade)"/><path d="M1219,1058 L1352,890" stroke="#d6d6d6" stroke-width="3"/><polygon points="1237,889 1640,885 1640,896 1370,906 1322,930 1204,932" fill="#c3c4c0" opacity="0.85" filter="url(#blur2)"/><polygon points="1021.0,1076.0 1101.0,1058.0 1237.0,890.0 1170.0,890.0" fill="url(#gRimFade)"/><polygon points="1021.0,1076.0 1101.0,1057.5 2048.0,1057.5 2048.0,1074.0" fill="#c8c9c5"/><polygon points="1021.0,1076.0 2048.0,1073.5 2048.0,1227.5 1028.0,1227.5" fill="url(#gBoxFront)"/><polygon points="1021.0,1076.0 2048.0,1073.5 2048.0,1227.5 1028.0,1227.5" fill="#000" filter="url(#fNoise)" opacity="0.05"/><g clip-path="url(#cpSprF)"><rect x="1140" y="838" width="910" height="47" fill="url(#gSprBand)"/><rect x="1140" y="885" width="910" height="122" fill="url(#gSprLow)"/><ellipse cx="1300" cy="852" rx="17" ry="3.2" fill="#fff" opacity="0.40"/><ellipse cx="1362" cy="852" rx="18" ry="3.4" fill="#fff" opacity="0.48"/><ellipse cx="1424" cy="852" rx="19" ry="3.6" fill="#fff" opacity="0.55"/><ellipse cx="1486" cy="852" rx="20" ry="3.9" fill="#fff" opacity="0.63"/><ellipse cx="1548" cy="852" rx="21" ry="4.1" fill="#fff" opacity="0.70"/><ellipse cx="1610" cy="852" rx="23" ry="4.3" fill="#fff" opacity="0.78"/><ellipse cx="1672" cy="852" rx="24" ry="4.5" fill="#fff" opacity="0.85"/><ellipse cx="1734" cy="852" rx="25" ry="4.7" fill="#fff" opacity="0.93"/><ellipse cx="1796" cy="852" rx="25" ry="4.8" fill="#fff" opacity="0.95"/><ellipse cx="1858" cy="852" rx="25" ry="4.8" fill="#fff" opacity="0.95"/><ellipse cx="1920" cy="852" rx="25" ry="4.8" fill="#fff" opacity="0.95"/><ellipse cx="1982" cy="852" rx="25" ry="4.8" fill="#fff" opacity="0.95"/><ellipse cx="2044" cy="852" rx="25" ry="4.8" fill="#fff" opacity="0.95"/><ellipse cx="1334" cy="865" rx="18" ry="3.3" fill="#fff" opacity="0.44"/><ellipse cx="1396" cy="865" rx="19" ry="3.5" fill="#fff" opacity="0.52"/><ellipse cx="1458" cy="865" rx="20" ry="3.8" fill="#fff" opacity="0.59"/><ellipse cx="1520" cy="865" rx="21" ry="4.0" fill="#fff" opacity="0.67"/><ellipse cx="1582" cy="865" rx="22" ry="4.2" fill="#fff" opacity="0.74"/><ellipse cx="1644" cy="865" rx="23" ry="4.4" fill="#fff" opacity="0.82"/><ellipse cx="1706" cy="865" rx="24" ry="4.6" fill="#fff" opacity="0.90"/><ellipse cx="1768" cy="865" rx="25" ry="4.8" fill="#fff" opacity="0.95"/><ellipse cx="1830" cy="865" rx="25" ry="4.8" fill="#fff" opacity="0.95"/><ellipse cx="1892" cy="865" rx="25" ry="4.8" fill="#fff" opacity="0.95"/><ellipse cx="1954" cy="865" rx="25" ry="4.8" fill="#fff" opacity="0.95"/><ellipse cx="2016" cy="865" rx="25" ry="4.8" fill="#fff" opacity="0.95"/><ellipse cx="2078" cy="865" rx="25" ry="4.8" fill="#fff" opacity="0.95"/><ellipse cx="1312" cy="878" rx="17" ry="3.2" fill="#fff" opacity="0.41"/><ellipse cx="1374" cy="878" rx="18" ry="3.5" fill="#fff" opacity="0.49"/><ellipse cx="1436" cy="878" rx="19" ry="3.7" fill="#fff" opacity="0.57"/><ellipse cx="1498" cy="878" rx="21" ry="3.9" fill="#fff" opacity="0.64"/><ellipse cx="1560" cy="878" rx="22" ry="4.1" fill="#fff" opacity="0.72"/><ellipse cx="1622" cy="878" rx="23" ry="4.3" fill="#fff" opacity="0.79"/><ellipse cx="1684" cy="878" rx="24" ry="4.6" fill="#fff" opacity="0.87"/><ellipse cx="1746" cy="878" rx="25" ry="4.8" fill="#fff" opacity="0.95"/><ellipse cx="1808" cy="878" rx="25" ry="4.8" fill="#fff" opacity="0.95"/><ellipse cx="1870" cy="878" rx="25" ry="4.8" fill="#fff" opacity="0.95"/><ellipse cx="1932" cy="878" rx="25" ry="4.8" fill="#fff" opacity="0.95"/><ellipse cx="1994" cy="878" rx="25" ry="4.8" fill="#fff" opacity="0.95"/><ellipse cx="2056" cy="878" rx="25" ry="4.8" fill="#fff" opacity="0.95"/><use href="#cb0" stroke="url(#gWireB0)" stroke-width="2.6"/><use href="#cb1" stroke="url(#gWireB1)" stroke-width="1.8"/><use href="#cb2" stroke="url(#gWireB2)" stroke-width="1.3"/><use href="#cl0" stroke="#747980" stroke-width="3.0"/><use href="#cl1" stroke="#8a8f94" stroke-width="2.0"/><use href="#cl2" stroke="#a2a6aa" stroke-width="1.4"/><use href="#cl0" stroke="#d3d6d9" stroke-width="1.2"/><g clip-path="url(#cpDarkBg)"><use href="#cl0" stroke="#6b6f73" stroke-width="2.6"/><use href="#cl1" stroke="#5f6367" stroke-width="1.8"/><use href="#cl2" stroke="#55595d" stroke-width="1.3"/><use href="#cl0" stroke="#93979b" stroke-width="0.9"/></g></g><g clip-path="url(#cpSprF)"><use href="#stad" stroke="#70757a" stroke-width="4.4"/><use href="#stad" stroke="#cdd1d5" stroke-width="2.4"/><g clip-path="url(#cpDarkBg)"><use href="#stad" stroke="#4c5054" stroke-width="4.6"/><use href="#stad" stroke="#8f9397" stroke-width="1.5"/></g></g><path d="M1148,1003.5 L2048,1006" stroke="#b9bdc1" stroke-width="2.4"/><g clip-path="url(#cpSprT)"><polygon points="1138.0,836.0 1206.0,756.0 2048.0,756.0 2048.0,843.0" fill="url(#gSprTop)"/><ellipse cx="1215.0" cy="762.5" rx="12.5" ry="3.1" fill="#96978f" opacity="0.34"/><ellipse cx="1215.0" cy="764.0" rx="19.5" ry="6" fill="none" stroke="#3c3f42" stroke-width="2.6"/><ellipse cx="1215.0" cy="762.5" rx="19.5" ry="6" fill="none" stroke="#c3c6c9" stroke-width="1.3"/><ellipse cx="1256.0" cy="762.5" rx="12.5" ry="3.1" fill="#96978f" opacity="0.40"/><ellipse cx="1256.0" cy="764.0" rx="19.5" ry="6" fill="none" stroke="#3c3f42" stroke-width="2.6"/><ellipse cx="1256.0" cy="762.5" rx="19.5" ry="6" fill="none" stroke="#c3c6c9" stroke-width="1.3"/><ellipse cx="1297.0" cy="762.5" rx="12.5" ry="3.1" fill="#96978f" opacity="0.45"/><ellipse cx="1297.0" cy="764.0" rx="19.5" ry="6" fill="none" stroke="#3c3f42" stroke-width="2.6"/><ellipse cx="1297.0" cy="762.5" rx="19.5" ry="6" fill="none" stroke="#c3c6c9" stroke-width="1.3"/><ellipse cx="1338.0" cy="762.5" rx="12.5" ry="3.1" fill="#96978f" opacity="0.50"/><ellipse cx="1338.0" cy="764.0" rx="19.5" ry="6" fill="none" stroke="#3c3f42" stroke-width="2.6"/><ellipse cx="1338.0" cy="762.5" rx="19.5" ry="6" fill="none" stroke="#c3c6c9" stroke-width="1.3"/><ellipse cx="1379.0" cy="762.5" rx="12.5" ry="3.1" fill="#96978f" opacity="0.56"/><ellipse cx="1379.0" cy="764.0" rx="19.5" ry="6" fill="none" stroke="#3c3f42" stroke-width="2.6"/><ellipse cx="1379.0" cy="762.5" rx="19.5" ry="6" fill="none" stroke="#c3c6c9" stroke-width="1.3"/><ellipse cx="1420.0" cy="762.5" rx="12.5" ry="3.1" fill="#96978f" opacity="0.61"/><ellipse cx="1420.0" cy="764.0" rx="19.5" ry="6" fill="none" stroke="#3c3f42" stroke-width="2.6"/><ellipse cx="1420.0" cy="762.5" rx="19.5" ry="6" fill="none" stroke="#c3c6c9" stroke-width="1.3"/><ellipse cx="1461.0" cy="762.5" rx="12.5" ry="3.1" fill="#96978f" opacity="0.66"/><ellipse cx="1461.0" cy="764.0" rx="19.5" ry="6" fill="none" stroke="#3c3f42" stroke-width="2.6"/><ellipse cx="1461.0" cy="762.5" rx="19.5" ry="6" fill="none" stroke="#c3c6c9" stroke-width="1.3"/><ellipse cx="1502.0" cy="762.5" rx="12.5" ry="3.1" fill="#96978f" opacity="0.71"/><ellipse cx="1502.0" cy="764.0" rx="19.5" ry="6" fill="none" stroke="#3c3f42" stroke-width="2.6"/><ellipse cx="1502.0" cy="762.5" rx="19.5" ry="6" fill="none" stroke="#c3c6c9" stroke-width="1.3"/><ellipse cx="1543.0" cy="762.5" rx="12.5" ry="3.1" fill="#96978f" opacity="0.75"/><ellipse cx="1543.0" cy="764.0" rx="19.5" ry="6" fill="none" stroke="#3c3f42" stroke-width="2.6"/><ellipse cx="1543.0" cy="762.5" rx="19.5" ry="6" fill="none" stroke="#c3c6c9" stroke-width="1.3"/><ellipse cx="1584.0" cy="762.5" rx="12.5" ry="3.1" fill="#96978f" opacity="0.75"/><ellipse cx="1584.0" cy="764.0" rx="19.5" ry="6" fill="none" stroke="#3c3f42" stroke-width="2.6"/><ellipse cx="1584.0" cy="762.5" rx="19.5" ry="6" fill="none" stroke="#c3c6c9" stroke-width="1.3"/><ellipse cx="1625.0" cy="762.5" rx="12.5" ry="3.1" fill="#96978f" opacity="0.75"/><ellipse cx="1625.0" cy="764.0" rx="19.5" ry="6" fill="none" stroke="#3c3f42" stroke-width="2.6"/><ellipse cx="1625.0" cy="762.5" rx="19.5" ry="6" fill="none" stroke="#c3c6c9" stroke-width="1.3"/><ellipse cx="1666.0" cy="762.5" rx="12.5" ry="3.1" fill="#96978f" opacity="0.75"/><ellipse cx="1666.0" cy="764.0" rx="19.5" ry="6" fill="none" stroke="#3c3f42" stroke-width="2.6"/><ellipse cx="1666.0" cy="762.5" rx="19.5" ry="6" fill="none" stroke="#c3c6c9" stroke-width="1.3"/><ellipse cx="1707.0" cy="762.5" rx="12.5" ry="3.1" fill="#96978f" opacity="0.75"/><ellipse cx="1707.0" cy="764.0" rx="19.5" ry="6" fill="none" stroke="#3c3f42" stroke-width="2.6"/><ellipse cx="1707.0" cy="762.5" rx="19.5" ry="6" fill="none" stroke="#c3c6c9" stroke-width="1.3"/><ellipse cx="1748.0" cy="762.5" rx="12.5" ry="3.1" fill="#96978f" opacity="0.75"/><ellipse cx="1748.0" cy="764.0" rx="19.5" ry="6" fill="none" stroke="#3c3f42" stroke-width="2.6"/><ellipse cx="1748.0" cy="762.5" rx="19.5" ry="6" fill="none" stroke="#c3c6c9" stroke-width="1.3"/><ellipse cx="1789.0" cy="762.5" rx="12.5" ry="3.1" fill="#96978f" opacity="0.75"/><ellipse cx="1789.0" cy="764.0" rx="19.5" ry="6" fill="none" stroke="#3c3f42" stroke-width="2.6"/><ellipse cx="1789.0" cy="762.5" rx="19.5" ry="6" fill="none" stroke="#c3c6c9" stroke-width="1.3"/><ellipse cx="1830.0" cy="762.5" rx="12.5" ry="3.1" fill="#96978f" opacity="0.75"/><ellipse cx="1830.0" cy="764.0" rx="19.5" ry="6" fill="none" stroke="#3c3f42" stroke-width="2.6"/><ellipse cx="1830.0" cy="762.5" rx="19.5" ry="6" fill="none" stroke="#c3c6c9" stroke-width="1.3"/><ellipse cx="1871.0" cy="762.5" rx="12.5" ry="3.1" fill="#96978f" opacity="0.75"/><ellipse cx="1871.0" cy="764.0" rx="19.5" ry="6" fill="none" stroke="#3c3f42" stroke-width="2.6"/><ellipse cx="1871.0" cy="762.5" rx="19.5" ry="6" fill="none" stroke="#c3c6c9" stroke-width="1.3"/><ellipse cx="1912.0" cy="762.5" rx="12.5" ry="3.1" fill="#96978f" opacity="0.75"/><ellipse cx="1912.0" cy="764.0" rx="19.5" ry="6" fill="none" stroke="#3c3f42" stroke-width="2.6"/><ellipse cx="1912.0" cy="762.5" rx="19.5" ry="6" fill="none" stroke="#c3c6c9" stroke-width="1.3"/><ellipse cx="1953.0" cy="762.5" rx="12.5" ry="3.1" fill="#96978f" opacity="0.75"/><ellipse cx="1953.0" cy="764.0" rx="19.5" ry="6" fill="none" stroke="#3c3f42" stroke-width="2.6"/><ellipse cx="1953.0" cy="762.5" rx="19.5" ry="6" fill="none" stroke="#c3c6c9" stroke-width="1.3"/><ellipse cx="1994.0" cy="762.5" rx="12.5" ry="3.1" fill="#96978f" opacity="0.75"/><ellipse cx="1994.0" cy="764.0" rx="19.5" ry="6" fill="none" stroke="#3c3f42" stroke-width="2.6"/><ellipse cx="1994.0" cy="762.5" rx="19.5" ry="6" fill="none" stroke="#c3c6c9" stroke-width="1.3"/><ellipse cx="2035.0" cy="762.5" rx="12.5" ry="3.1" fill="#96978f" opacity="0.75"/><ellipse cx="2035.0" cy="764.0" rx="19.5" ry="6" fill="none" stroke="#3c3f42" stroke-width="2.6"/><ellipse cx="2035.0" cy="762.5" rx="19.5" ry="6" fill="none" stroke="#c3c6c9" stroke-width="1.3"/><ellipse cx="2076.0" cy="762.5" rx="12.5" ry="3.1" fill="#96978f" opacity="0.75"/><ellipse cx="2076.0" cy="764.0" rx="19.5" ry="6" fill="none" stroke="#3c3f42" stroke-width="2.6"/><ellipse cx="2076.0" cy="762.5" rx="19.5" ry="6" fill="none" stroke="#c3c6c9" stroke-width="1.3"/><ellipse cx="1202.1" cy="777.5" rx="12.5" ry="3.1" fill="#96978f" opacity="0.33"/><ellipse cx="1202.1" cy="779.0" rx="19.5" ry="6" fill="none" stroke="#3c3f42" stroke-width="2.6"/><ellipse cx="1202.1" cy="777.5" rx="19.5" ry="6" fill="none" stroke="#c3c6c9" stroke-width="1.3"/><ellipse cx="1243.1" cy="777.5" rx="12.5" ry="3.1" fill="#96978f" opacity="0.38"/><ellipse cx="1243.1" cy="779.0" rx="19.5" ry="6" fill="none" stroke="#3c3f42" stroke-width="2.6"/><ellipse cx="1243.1" cy="777.5" rx="19.5" ry="6" fill="none" stroke="#c3c6c9" stroke-width="1.3"/><ellipse cx="1284.1" cy="777.5" rx="12.5" ry="3.1" fill="#96978f" opacity="0.43"/><ellipse cx="1284.1" cy="779.0" rx="19.5" ry="6" fill="none" stroke="#3c3f42" stroke-width="2.6"/><ellipse cx="1284.1" cy="777.5" rx="19.5" ry="6" fill="none" stroke="#c3c6c9" stroke-width="1.3"/><ellipse cx="1325.1" cy="777.5" rx="12.5" ry="3.1" fill="#96978f" opacity="0.49"/><ellipse cx="1325.1" cy="779.0" rx="19.5" ry="6" fill="none" stroke="#3c3f42" stroke-width="2.6"/><ellipse cx="1325.1" cy="777.5" rx="19.5" ry="6" fill="none" stroke="#c3c6c9" stroke-width="1.3"/><ellipse cx="1366.1" cy="777.5" rx="12.5" ry="3.1" fill="#96978f" opacity="0.54"/><ellipse cx="1366.1" cy="779.0" rx="19.5" ry="6" fill="none" stroke="#3c3f42" stroke-width="2.6"/><ellipse cx="1366.1" cy="777.5" rx="19.5" ry="6" fill="none" stroke="#c3c6c9" stroke-width="1.3"/><ellipse cx="1407.1" cy="777.5" rx="12.5" ry="3.1" fill="#96978f" opacity="0.59"/><ellipse cx="1407.1" cy="779.0" rx="19.5" ry="6" fill="none" stroke="#3c3f42" stroke-width="2.6"/><ellipse cx="1407.1" cy="777.5" rx="19.5" ry="6" fill="none" stroke="#c3c6c9" stroke-width="1.3"/><ellipse cx="1448.1" cy="777.5" rx="12.5" ry="3.1" fill="#96978f" opacity="0.64"/><ellipse cx="1448.1" cy="779.0" rx="19.5" ry="6" fill="none" stroke="#3c3f42" stroke-width="2.6"/><ellipse cx="1448.1" cy="777.5" rx="19.5" ry="6" fill="none" stroke="#c3c6c9" stroke-width="1.3"/><ellipse cx="1489.1" cy="777.5" rx="12.5" ry="3.1" fill="#96978f" opacity="0.70"/><ellipse cx="1489.1" cy="779.0" rx="19.5" ry="6" fill="none" stroke="#3c3f42" stroke-width="2.6"/><ellipse cx="1489.1" cy="777.5" rx="19.5" ry="6" fill="none" stroke="#c3c6c9" stroke-width="1.3"/><ellipse cx="1530.1" cy="777.5" rx="12.5" ry="3.1" fill="#96978f" opacity="0.75"/><ellipse cx="1530.1" cy="779.0" rx="19.5" ry="6" fill="none" stroke="#3c3f42" stroke-width="2.6"/><ellipse cx="1530.1" cy="777.5" rx="19.5" ry="6" fill="none" stroke="#c3c6c9" stroke-width="1.3"/><ellipse cx="1571.1" cy="777.5" rx="12.5" ry="3.1" fill="#96978f" opacity="0.75"/><ellipse cx="1571.1" cy="779.0" rx="19.5" ry="6" fill="none" stroke="#3c3f42" stroke-width="2.6"/><ellipse cx="1571.1" cy="777.5" rx="19.5" ry="6" fill="none" stroke="#c3c6c9" stroke-width="1.3"/><ellipse cx="1612.1" cy="777.5" rx="12.5" ry="3.1" fill="#96978f" opacity="0.75"/><ellipse cx="1612.1" cy="779.0" rx="19.5" ry="6" fill="none" stroke="#3c3f42" stroke-width="2.6"/><ellipse cx="1612.1" cy="777.5" rx="19.5" ry="6" fill="none" stroke="#c3c6c9" stroke-width="1.3"/><ellipse cx="1653.1" cy="777.5" rx="12.5" ry="3.1" fill="#96978f" opacity="0.75"/><ellipse cx="1653.1" cy="779.0" rx="19.5" ry="6" fill="none" stroke="#3c3f42" stroke-width="2.6"/><ellipse cx="1653.1" cy="777.5" rx="19.5" ry="6" fill="none" stroke="#c3c6c9" stroke-width="1.3"/><ellipse cx="1694.1" cy="777.5" rx="12.5" ry="3.1" fill="#96978f" opacity="0.75"/><ellipse cx="1694.1" cy="779.0" rx="19.5" ry="6" fill="none" stroke="#3c3f42" stroke-width="2.6"/><ellipse cx="1694.1" cy="777.5" rx="19.5" ry="6" fill="none" stroke="#c3c6c9" stroke-width="1.3"/><ellipse cx="1735.1" cy="777.5" rx="12.5" ry="3.1" fill="#96978f" opacity="0.75"/><ellipse cx="1735.1" cy="779.0" rx="19.5" ry="6" fill="none" stroke="#3c3f42" stroke-width="2.6"/><ellipse cx="1735.1" cy="777.5" rx="19.5" ry="6" fill="none" stroke="#c3c6c9" stroke-width="1.3"/><ellipse cx="1776.1" cy="777.5" rx="12.5" ry="3.1" fill="#96978f" opacity="0.75"/><ellipse cx="1776.1" cy="779.0" rx="19.5" ry="6" fill="none" stroke="#3c3f42" stroke-width="2.6"/><ellipse cx="1776.1" cy="777.5" rx="19.5" ry="6" fill="none" stroke="#c3c6c9" stroke-width="1.3"/><ellipse cx="1817.1" cy="777.5" rx="12.5" ry="3.1" fill="#96978f" opacity="0.75"/><ellipse cx="1817.1" cy="779.0" rx="19.5" ry="6" fill="none" stroke="#3c3f42" stroke-width="2.6"/><ellipse cx="1817.1" cy="777.5" rx="19.5" ry="6" fill="none" stroke="#c3c6c9" stroke-width="1.3"/><ellipse cx="1858.1" cy="777.5" rx="12.5" ry="3.1" fill="#96978f" opacity="0.75"/><ellipse cx="1858.1" cy="779.0" rx="19.5" ry="6" fill="none" stroke="#3c3f42" stroke-width="2.6"/><ellipse cx="1858.1" cy="777.5" rx="19.5" ry="6" fill="none" stroke="#c3c6c9" stroke-width="1.3"/><ellipse cx="1899.1" cy="777.5" rx="12.5" ry="3.1" fill="#96978f" opacity="0.75"/><ellipse cx="1899.1" cy="779.0" rx="19.5" ry="6" fill="none" stroke="#3c3f42" stroke-width="2.6"/><ellipse cx="1899.1" cy="777.5" rx="19.5" ry="6" fill="none" stroke="#c3c6c9" stroke-width="1.3"/><ellipse cx="1940.1" cy="777.5" rx="12.5" ry="3.1" fill="#96978f" opacity="0.75"/><ellipse cx="1940.1" cy="779.0" rx="19.5" ry="6" fill="none" stroke="#3c3f42" stroke-width="2.6"/><ellipse cx="1940.1" cy="777.5" rx="19.5" ry="6" fill="none" stroke="#c3c6c9" stroke-width="1.3"/><ellipse cx="1981.1" cy="777.5" rx="12.5" ry="3.1" fill="#96978f" opacity="0.75"/><ellipse cx="1981.1" cy="779.0" rx="19.5" ry="6" fill="none" stroke="#3c3f42" stroke-width="2.6"/><ellipse cx="1981.1" cy="777.5" rx="19.5" ry="6" fill="none" stroke="#c3c6c9" stroke-width="1.3"/><ellipse cx="2022.1" cy="777.5" rx="12.5" ry="3.1" fill="#96978f" opacity="0.75"/><ellipse cx="2022.1" cy="779.0" rx="19.5" ry="6" fill="none" stroke="#3c3f42" stroke-width="2.6"/><ellipse cx="2022.1" cy="777.5" rx="19.5" ry="6" fill="none" stroke="#c3c6c9" stroke-width="1.3"/><ellipse cx="2063.1" cy="777.5" rx="12.5" ry="3.1" fill="#96978f" opacity="0.75"/><ellipse cx="2063.1" cy="779.0" rx="19.5" ry="6" fill="none" stroke="#3c3f42" stroke-width="2.6"/><ellipse cx="2063.1" cy="777.5" rx="19.5" ry="6" fill="none" stroke="#c3c6c9" stroke-width="1.3"/><ellipse cx="1189.2" cy="792.5" rx="12.5" ry="3.1" fill="#96978f" opacity="0.31"/><ellipse cx="1189.2" cy="794.0" rx="19.5" ry="6" fill="none" stroke="#3c3f42" stroke-width="2.6"/><ellipse cx="1189.2" cy="792.5" rx="19.5" ry="6" fill="none" stroke="#c3c6c9" stroke-width="1.3"/><ellipse cx="1230.2" cy="792.5" rx="12.5" ry="3.1" fill="#96978f" opacity="0.36"/><ellipse cx="1230.2" cy="794.0" rx="19.5" ry="6" fill="none" stroke="#3c3f42" stroke-width="2.6"/><ellipse cx="1230.2" cy="792.5" rx="19.5" ry="6" fill="none" stroke="#c3c6c9" stroke-width="1.3"/><ellipse cx="1271.2" cy="792.5" rx="12.5" ry="3.1" fill="#96978f" opacity="0.42"/><ellipse cx="1271.2" cy="794.0" rx="19.5" ry="6" fill="none" stroke="#3c3f42" stroke-width="2.6"/><ellipse cx="1271.2" cy="792.5" rx="19.5" ry="6" fill="none" stroke="#c3c6c9" stroke-width="1.3"/><ellipse cx="1312.2" cy="792.5" rx="12.5" ry="3.1" fill="#96978f" opacity="0.47"/><ellipse cx="1312.2" cy="794.0" rx="19.5" ry="6" fill="none" stroke="#3c3f42" stroke-width="2.6"/><ellipse cx="1312.2" cy="792.5" rx="19.5" ry="6" fill="none" stroke="#c3c6c9" stroke-width="1.3"/><ellipse cx="1353.2" cy="792.5" rx="12.5" ry="3.1" fill="#96978f" opacity="0.52"/><ellipse cx="1353.2" cy="794.0" rx="19.5" ry="6" fill="none" stroke="#3c3f42" stroke-width="2.6"/><ellipse cx="1353.2" cy="792.5" rx="19.5" ry="6" fill="none" stroke="#c3c6c9" stroke-width="1.3"/><ellipse cx="1394.2" cy="792.5" rx="12.5" ry="3.1" fill="#96978f" opacity="0.58"/><ellipse cx="1394.2" cy="794.0" rx="19.5" ry="6" fill="none" stroke="#3c3f42" stroke-width="2.6"/><ellipse cx="1394.2" cy="792.5" rx="19.5" ry="6" fill="none" stroke="#c3c6c9" stroke-width="1.3"/><ellipse cx="1435.2" cy="792.5" rx="12.5" ry="3.1" fill="#96978f" opacity="0.63"/><ellipse cx="1435.2" cy="794.0" rx="19.5" ry="6" fill="none" stroke="#3c3f42" stroke-width="2.6"/><ellipse cx="1435.2" cy="792.5" rx="19.5" ry="6" fill="none" stroke="#c3c6c9" stroke-width="1.3"/><ellipse cx="1476.2" cy="792.5" rx="12.5" ry="3.1" fill="#96978f" opacity="0.68"/><ellipse cx="1476.2" cy="794.0" rx="19.5" ry="6" fill="none" stroke="#3c3f42" stroke-width="2.6"/><ellipse cx="1476.2" cy="792.5" rx="19.5" ry="6" fill="none" stroke="#c3c6c9" stroke-width="1.3"/><ellipse cx="1517.2" cy="792.5" rx="12.5" ry="3.1" fill="#96978f" opacity="0.73"/><ellipse cx="1517.2" cy="794.0" rx="19.5" ry="6" fill="none" stroke="#3c3f42" stroke-width="2.6"/><ellipse cx="1517.2" cy="792.5" rx="19.5" ry="6" fill="none" stroke="#c3c6c9" stroke-width="1.3"/><ellipse cx="1558.2" cy="792.5" rx="12.5" ry="3.1" fill="#96978f" opacity="0.75"/><ellipse cx="1558.2" cy="794.0" rx="19.5" ry="6" fill="none" stroke="#3c3f42" stroke-width="2.6"/><ellipse cx="1558.2" cy="792.5" rx="19.5" ry="6" fill="none" stroke="#c3c6c9" stroke-width="1.3"/><ellipse cx="1599.2" cy="792.5" rx="12.5" ry="3.1" fill="#96978f" opacity="0.75"/><ellipse cx="1599.2" cy="794.0" rx="19.5" ry="6" fill="none" stroke="#3c3f42" stroke-width="2.6"/><ellipse cx="1599.2" cy="792.5" rx="19.5" ry="6" fill="none" stroke="#c3c6c9" stroke-width="1.3"/><ellipse cx="1640.2" cy="792.5" rx="12.5" ry="3.1" fill="#96978f" opacity="0.75"/><ellipse cx="1640.2" cy="794.0" rx="19.5" ry="6" fill="none" stroke="#3c3f42" stroke-width="2.6"/><ellipse cx="1640.2" cy="792.5" rx="19.5" ry="6" fill="none" stroke="#c3c6c9" stroke-width="1.3"/><ellipse cx="1681.2" cy="792.5" rx="12.5" ry="3.1" fill="#96978f" opacity="0.75"/><ellipse cx="1681.2" cy="794.0" rx="19.5" ry="6" fill="none" stroke="#3c3f42" stroke-width="2.6"/><ellipse cx="1681.2" cy="792.5" rx="19.5" ry="6" fill="none" stroke="#c3c6c9" stroke-width="1.3"/><ellipse cx="1722.2" cy="792.5" rx="12.5" ry="3.1" fill="#96978f" opacity="0.75"/><ellipse cx="1722.2" cy="794.0" rx="19.5" ry="6" fill="none" stroke="#3c3f42" stroke-width="2.6"/><ellipse cx="1722.2" cy="792.5" rx="19.5" ry="6" fill="none" stroke="#c3c6c9" stroke-width="1.3"/><ellipse cx="1763.2" cy="792.5" rx="12.5" ry="3.1" fill="#96978f" opacity="0.75"/><ellipse cx="1763.2" cy="794.0" rx="19.5" ry="6" fill="none" stroke="#3c3f42" stroke-width="2.6"/><ellipse cx="1763.2" cy="792.5" rx="19.5" ry="6" fill="none" stroke="#c3c6c9" stroke-width="1.3"/><ellipse cx="1804.2" cy="792.5" rx="12.5" ry="3.1" fill="#96978f" opacity="0.75"/><ellipse cx="1804.2" cy="794.0" rx="19.5" ry="6" fill="none" stroke="#3c3f42" stroke-width="2.6"/><ellipse cx="1804.2" cy="792.5" rx="19.5" ry="6" fill="none" stroke="#c3c6c9" stroke-width="1.3"/><ellipse cx="1845.2" cy="792.5" rx="12.5" ry="3.1" fill="#96978f" opacity="0.75"/><ellipse cx="1845.2" cy="794.0" rx="19.5" ry="6" fill="none" stroke="#3c3f42" stroke-width="2.6"/><ellipse cx="1845.2" cy="792.5" rx="19.5" ry="6" fill="none" stroke="#c3c6c9" stroke-width="1.3"/><ellipse cx="1886.2" cy="792.5" rx="12.5" ry="3.1" fill="#96978f" opacity="0.75"/><ellipse cx="1886.2" cy="794.0" rx="19.5" ry="6" fill="none" stroke="#3c3f42" stroke-width="2.6"/><ellipse cx="1886.2" cy="792.5" rx="19.5" ry="6" fill="none" stroke="#c3c6c9" stroke-width="1.3"/><ellipse cx="1927.2" cy="792.5" rx="12.5" ry="3.1" fill="#96978f" opacity="0.75"/><ellipse cx="1927.2" cy="794.0" rx="19.5" ry="6" fill="none" stroke="#3c3f42" stroke-width="2.6"/><ellipse cx="1927.2" cy="792.5" rx="19.5" ry="6" fill="none" stroke="#c3c6c9" stroke-width="1.3"/><ellipse cx="1968.2" cy="792.5" rx="12.5" ry="3.1" fill="#96978f" opacity="0.75"/><ellipse cx="1968.2" cy="794.0" rx="19.5" ry="6" fill="none" stroke="#3c3f42" stroke-width="2.6"/><ellipse cx="1968.2" cy="792.5" rx="19.5" ry="6" fill="none" stroke="#c3c6c9" stroke-width="1.3"/><ellipse cx="2009.2" cy="792.5" rx="12.5" ry="3.1" fill="#96978f" opacity="0.75"/><ellipse cx="2009.2" cy="794.0" rx="19.5" ry="6" fill="none" stroke="#3c3f42" stroke-width="2.6"/><ellipse cx="2009.2" cy="792.5" rx="19.5" ry="6" fill="none" stroke="#c3c6c9" stroke-width="1.3"/><ellipse cx="2050.2" cy="792.5" rx="12.5" ry="3.1" fill="#96978f" opacity="0.75"/><ellipse cx="2050.2" cy="794.0" rx="19.5" ry="6" fill="none" stroke="#3c3f42" stroke-width="2.6"/><ellipse cx="2050.2" cy="792.5" rx="19.5" ry="6" fill="none" stroke="#c3c6c9" stroke-width="1.3"/><ellipse cx="2091.2" cy="792.5" rx="12.5" ry="3.1" fill="#96978f" opacity="0.75"/><ellipse cx="2091.2" cy="794.0" rx="19.5" ry="6" fill="none" stroke="#3c3f42" stroke-width="2.6"/><ellipse cx="2091.2" cy="792.5" rx="19.5" ry="6" fill="none" stroke="#c3c6c9" stroke-width="1.3"/><ellipse cx="1176.3" cy="807.5" rx="12.5" ry="3.1" fill="#cbcccd" opacity="0.30"/><ellipse cx="1176.3" cy="809.0" rx="19.5" ry="6" fill="none" stroke="#3c3f42" stroke-width="2.6"/><ellipse cx="1176.3" cy="807.5" rx="19.5" ry="6" fill="none" stroke="#c3c6c9" stroke-width="1.3"/><ellipse cx="1217.3" cy="807.5" rx="12.5" ry="3.1" fill="#cbcccd" opacity="0.35"/><ellipse cx="1217.3" cy="809.0" rx="19.5" ry="6" fill="none" stroke="#3c3f42" stroke-width="2.6"/><ellipse cx="1217.3" cy="807.5" rx="19.5" ry="6" fill="none" stroke="#c3c6c9" stroke-width="1.3"/><ellipse cx="1258.3" cy="807.5" rx="12.5" ry="3.1" fill="#cbcccd" opacity="0.40"/><ellipse cx="1258.3" cy="809.0" rx="19.5" ry="6" fill="none" stroke="#3c3f42" stroke-width="2.6"/><ellipse cx="1258.3" cy="807.5" rx="19.5" ry="6" fill="none" stroke="#c3c6c9" stroke-width="1.3"/><ellipse cx="1299.3" cy="807.5" rx="12.5" ry="3.1" fill="#cbcccd" opacity="0.45"/><ellipse cx="1299.3" cy="809.0" rx="19.5" ry="6" fill="none" stroke="#3c3f42" stroke-width="2.6"/><ellipse cx="1299.3" cy="807.5" rx="19.5" ry="6" fill="none" stroke="#c3c6c9" stroke-width="1.3"/><ellipse cx="1340.3" cy="807.5" rx="12.5" ry="3.1" fill="#cbcccd" opacity="0.51"/><ellipse cx="1340.3" cy="809.0" rx="19.5" ry="6" fill="none" stroke="#3c3f42" stroke-width="2.6"/><ellipse cx="1340.3" cy="807.5" rx="19.5" ry="6" fill="none" stroke="#c3c6c9" stroke-width="1.3"/><ellipse cx="1381.3" cy="807.5" rx="12.5" ry="3.1" fill="#cbcccd" opacity="0.56"/><ellipse cx="1381.3" cy="809.0" rx="19.5" ry="6" fill="none" stroke="#3c3f42" stroke-width="2.6"/><ellipse cx="1381.3" cy="807.5" rx="19.5" ry="6" fill="none" stroke="#c3c6c9" stroke-width="1.3"/><ellipse cx="1422.3" cy="807.5" rx="12.5" ry="3.1" fill="#cbcccd" opacity="0.61"/><ellipse cx="1422.3" cy="809.0" rx="19.5" ry="6" fill="none" stroke="#3c3f42" stroke-width="2.6"/><ellipse cx="1422.3" cy="807.5" rx="19.5" ry="6" fill="none" stroke="#c3c6c9" stroke-width="1.3"/><ellipse cx="1463.3" cy="807.5" rx="12.5" ry="3.1" fill="#cbcccd" opacity="0.66"/><ellipse cx="1463.3" cy="809.0" rx="19.5" ry="6" fill="none" stroke="#3c3f42" stroke-width="2.6"/><ellipse cx="1463.3" cy="807.5" rx="19.5" ry="6" fill="none" stroke="#c3c6c9" stroke-width="1.3"/><ellipse cx="1504.3" cy="807.5" rx="12.5" ry="3.1" fill="#cbcccd" opacity="0.72"/><ellipse cx="1504.3" cy="809.0" rx="19.5" ry="6" fill="none" stroke="#3c3f42" stroke-width="2.6"/><ellipse cx="1504.3" cy="807.5" rx="19.5" ry="6" fill="none" stroke="#c3c6c9" stroke-width="1.3"/><ellipse cx="1545.3" cy="807.5" rx="12.5" ry="3.1" fill="#cbcccd" opacity="0.75"/><ellipse cx="1545.3" cy="809.0" rx="19.5" ry="6" fill="none" stroke="#3c3f42" stroke-width="2.6"/><ellipse cx="1545.3" cy="807.5" rx="19.5" ry="6" fill="none" stroke="#c3c6c9" stroke-width="1.3"/><ellipse cx="1586.3" cy="807.5" rx="12.5" ry="3.1" fill="#cbcccd" opacity="0.75"/><ellipse cx="1586.3" cy="809.0" rx="19.5" ry="6" fill="none" stroke="#3c3f42" stroke-width="2.6"/><ellipse cx="1586.3" cy="807.5" rx="19.5" ry="6" fill="none" stroke="#c3c6c9" stroke-width="1.3"/><ellipse cx="1627.3" cy="807.5" rx="12.5" ry="3.1" fill="#cbcccd" opacity="0.75"/><ellipse cx="1627.3" cy="809.0" rx="19.5" ry="6" fill="none" stroke="#3c3f42" stroke-width="2.6"/><ellipse cx="1627.3" cy="807.5" rx="19.5" ry="6" fill="none" stroke="#c3c6c9" stroke-width="1.3"/><ellipse cx="1668.3" cy="807.5" rx="12.5" ry="3.1" fill="#cbcccd" opacity="0.75"/><ellipse cx="1668.3" cy="809.0" rx="19.5" ry="6" fill="none" stroke="#3c3f42" stroke-width="2.6"/><ellipse cx="1668.3" cy="807.5" rx="19.5" ry="6" fill="none" stroke="#c3c6c9" stroke-width="1.3"/><ellipse cx="1709.3" cy="807.5" rx="12.5" ry="3.1" fill="#cbcccd" opacity="0.75"/><ellipse cx="1709.3" cy="809.0" rx="19.5" ry="6" fill="none" stroke="#3c3f42" stroke-width="2.6"/><ellipse cx="1709.3" cy="807.5" rx="19.5" ry="6" fill="none" stroke="#c3c6c9" stroke-width="1.3"/><ellipse cx="1750.3" cy="807.5" rx="12.5" ry="3.1" fill="#cbcccd" opacity="0.75"/><ellipse cx="1750.3" cy="809.0" rx="19.5" ry="6" fill="none" stroke="#3c3f42" stroke-width="2.6"/><ellipse cx="1750.3" cy="807.5" rx="19.5" ry="6" fill="none" stroke="#c3c6c9" stroke-width="1.3"/><ellipse cx="1791.3" cy="807.5" rx="12.5" ry="3.1" fill="#cbcccd" opacity="0.75"/><ellipse cx="1791.3" cy="809.0" rx="19.5" ry="6" fill="none" stroke="#3c3f42" stroke-width="2.6"/><ellipse cx="1791.3" cy="807.5" rx="19.5" ry="6" fill="none" stroke="#c3c6c9" stroke-width="1.3"/><ellipse cx="1832.3" cy="807.5" rx="12.5" ry="3.1" fill="#cbcccd" opacity="0.75"/><ellipse cx="1832.3" cy="809.0" rx="19.5" ry="6" fill="none" stroke="#3c3f42" stroke-width="2.6"/><ellipse cx="1832.3" cy="807.5" rx="19.5" ry="6" fill="none" stroke="#c3c6c9" stroke-width="1.3"/><ellipse cx="1873.3" cy="807.5" rx="12.5" ry="3.1" fill="#cbcccd" opacity="0.75"/><ellipse cx="1873.3" cy="809.0" rx="19.5" ry="6" fill="none" stroke="#3c3f42" stroke-width="2.6"/><ellipse cx="1873.3" cy="807.5" rx="19.5" ry="6" fill="none" stroke="#c3c6c9" stroke-width="1.3"/><ellipse cx="1914.3" cy="807.5" rx="12.5" ry="3.1" fill="#cbcccd" opacity="0.75"/><ellipse cx="1914.3" cy="809.0" rx="19.5" ry="6" fill="none" stroke="#3c3f42" stroke-width="2.6"/><ellipse cx="1914.3" cy="807.5" rx="19.5" ry="6" fill="none" stroke="#c3c6c9" stroke-width="1.3"/><ellipse cx="1955.3" cy="807.5" rx="12.5" ry="3.1" fill="#cbcccd" opacity="0.75"/><ellipse cx="1955.3" cy="809.0" rx="19.5" ry="6" fill="none" stroke="#3c3f42" stroke-width="2.6"/><ellipse cx="1955.3" cy="807.5" rx="19.5" ry="6" fill="none" stroke="#c3c6c9" stroke-width="1.3"/><ellipse cx="1996.3" cy="807.5" rx="12.5" ry="3.1" fill="#cbcccd" opacity="0.75"/><ellipse cx="1996.3" cy="809.0" rx="19.5" ry="6" fill="none" stroke="#3c3f42" stroke-width="2.6"/><ellipse cx="1996.3" cy="807.5" rx="19.5" ry="6" fill="none" stroke="#c3c6c9" stroke-width="1.3"/><ellipse cx="2037.3" cy="807.5" rx="12.5" ry="3.1" fill="#cbcccd" opacity="0.75"/><ellipse cx="2037.3" cy="809.0" rx="19.5" ry="6" fill="none" stroke="#3c3f42" stroke-width="2.6"/><ellipse cx="2037.3" cy="807.5" rx="19.5" ry="6" fill="none" stroke="#c3c6c9" stroke-width="1.3"/><ellipse cx="2078.3" cy="807.5" rx="12.5" ry="3.1" fill="#cbcccd" opacity="0.75"/><ellipse cx="2078.3" cy="809.0" rx="19.5" ry="6" fill="none" stroke="#3c3f42" stroke-width="2.6"/><ellipse cx="2078.3" cy="807.5" rx="19.5" ry="6" fill="none" stroke="#c3c6c9" stroke-width="1.3"/><ellipse cx="1163.4" cy="822.5" rx="12.5" ry="3.1" fill="#cbcccd" opacity="0.30"/><ellipse cx="1163.4" cy="824.0" rx="19.5" ry="6" fill="none" stroke="#3c3f42" stroke-width="2.6"/><ellipse cx="1163.4" cy="822.5" rx="19.5" ry="6" fill="none" stroke="#c3c6c9" stroke-width="1.3"/><ellipse cx="1204.4" cy="822.5" rx="12.5" ry="3.1" fill="#cbcccd" opacity="0.33"/><ellipse cx="1204.4" cy="824.0" rx="19.5" ry="6" fill="none" stroke="#3c3f42" stroke-width="2.6"/><ellipse cx="1204.4" cy="822.5" rx="19.5" ry="6" fill="none" stroke="#c3c6c9" stroke-width="1.3"/><ellipse cx="1245.4" cy="822.5" rx="12.5" ry="3.1" fill="#cbcccd" opacity="0.38"/><ellipse cx="1245.4" cy="824.0" rx="19.5" ry="6" fill="none" stroke="#3c3f42" stroke-width="2.6"/><ellipse cx="1245.4" cy="822.5" rx="19.5" ry="6" fill="none" stroke="#c3c6c9" stroke-width="1.3"/><ellipse cx="1286.4" cy="822.5" rx="12.5" ry="3.1" fill="#cbcccd" opacity="0.44"/><ellipse cx="1286.4" cy="824.0" rx="19.5" ry="6" fill="none" stroke="#3c3f42" stroke-width="2.6"/><ellipse cx="1286.4" cy="822.5" rx="19.5" ry="6" fill="none" stroke="#c3c6c9" stroke-width="1.3"/><ellipse cx="1327.4" cy="822.5" rx="12.5" ry="3.1" fill="#cbcccd" opacity="0.49"/><ellipse cx="1327.4" cy="824.0" rx="19.5" ry="6" fill="none" stroke="#3c3f42" stroke-width="2.6"/><ellipse cx="1327.4" cy="822.5" rx="19.5" ry="6" fill="none" stroke="#c3c6c9" stroke-width="1.3"/><ellipse cx="1368.4" cy="822.5" rx="12.5" ry="3.1" fill="#cbcccd" opacity="0.54"/><ellipse cx="1368.4" cy="824.0" rx="19.5" ry="6" fill="none" stroke="#3c3f42" stroke-width="2.6"/><ellipse cx="1368.4" cy="822.5" rx="19.5" ry="6" fill="none" stroke="#c3c6c9" stroke-width="1.3"/><ellipse cx="1409.4" cy="822.5" rx="12.5" ry="3.1" fill="#cbcccd" opacity="0.59"/><ellipse cx="1409.4" cy="824.0" rx="19.5" ry="6" fill="none" stroke="#3c3f42" stroke-width="2.6"/><ellipse cx="1409.4" cy="822.5" rx="19.5" ry="6" fill="none" stroke="#c3c6c9" stroke-width="1.3"/><ellipse cx="1450.4" cy="822.5" rx="12.5" ry="3.1" fill="#cbcccd" opacity="0.65"/><ellipse cx="1450.4" cy="824.0" rx="19.5" ry="6" fill="none" stroke="#3c3f42" stroke-width="2.6"/><ellipse cx="1450.4" cy="822.5" rx="19.5" ry="6" fill="none" stroke="#c3c6c9" stroke-width="1.3"/><ellipse cx="1491.4" cy="822.5" rx="12.5" ry="3.1" fill="#cbcccd" opacity="0.70"/><ellipse cx="1491.4" cy="824.0" rx="19.5" ry="6" fill="none" stroke="#3c3f42" stroke-width="2.6"/><ellipse cx="1491.4" cy="822.5" rx="19.5" ry="6" fill="none" stroke="#c3c6c9" stroke-width="1.3"/><ellipse cx="1532.4" cy="822.5" rx="12.5" ry="3.1" fill="#cbcccd" opacity="0.75"/><ellipse cx="1532.4" cy="824.0" rx="19.5" ry="6" fill="none" stroke="#3c3f42" stroke-width="2.6"/><ellipse cx="1532.4" cy="822.5" rx="19.5" ry="6" fill="none" stroke="#c3c6c9" stroke-width="1.3"/><ellipse cx="1573.4" cy="822.5" rx="12.5" ry="3.1" fill="#cbcccd" opacity="0.75"/><ellipse cx="1573.4" cy="824.0" rx="19.5" ry="6" fill="none" stroke="#3c3f42" stroke-width="2.6"/><ellipse cx="1573.4" cy="822.5" rx="19.5" ry="6" fill="none" stroke="#c3c6c9" stroke-width="1.3"/><ellipse cx="1614.4" cy="822.5" rx="12.5" ry="3.1" fill="#cbcccd" opacity="0.75"/><ellipse cx="1614.4" cy="824.0" rx="19.5" ry="6" fill="none" stroke="#3c3f42" stroke-width="2.6"/><ellipse cx="1614.4" cy="822.5" rx="19.5" ry="6" fill="none" stroke="#c3c6c9" stroke-width="1.3"/><ellipse cx="1655.4" cy="822.5" rx="12.5" ry="3.1" fill="#cbcccd" opacity="0.75"/><ellipse cx="1655.4" cy="824.0" rx="19.5" ry="6" fill="none" stroke="#3c3f42" stroke-width="2.6"/><ellipse cx="1655.4" cy="822.5" rx="19.5" ry="6" fill="none" stroke="#c3c6c9" stroke-width="1.3"/><ellipse cx="1696.4" cy="822.5" rx="12.5" ry="3.1" fill="#cbcccd" opacity="0.75"/><ellipse cx="1696.4" cy="824.0" rx="19.5" ry="6" fill="none" stroke="#3c3f42" stroke-width="2.6"/><ellipse cx="1696.4" cy="822.5" rx="19.5" ry="6" fill="none" stroke="#c3c6c9" stroke-width="1.3"/><ellipse cx="1737.4" cy="822.5" rx="12.5" ry="3.1" fill="#cbcccd" opacity="0.75"/><ellipse cx="1737.4" cy="824.0" rx="19.5" ry="6" fill="none" stroke="#3c3f42" stroke-width="2.6"/><ellipse cx="1737.4" cy="822.5" rx="19.5" ry="6" fill="none" stroke="#c3c6c9" stroke-width="1.3"/><ellipse cx="1778.4" cy="822.5" rx="12.5" ry="3.1" fill="#cbcccd" opacity="0.75"/><ellipse cx="1778.4" cy="824.0" rx="19.5" ry="6" fill="none" stroke="#3c3f42" stroke-width="2.6"/><ellipse cx="1778.4" cy="822.5" rx="19.5" ry="6" fill="none" stroke="#c3c6c9" stroke-width="1.3"/><ellipse cx="1819.4" cy="822.5" rx="12.5" ry="3.1" fill="#cbcccd" opacity="0.75"/><ellipse cx="1819.4" cy="824.0" rx="19.5" ry="6" fill="none" stroke="#3c3f42" stroke-width="2.6"/><ellipse cx="1819.4" cy="822.5" rx="19.5" ry="6" fill="none" stroke="#c3c6c9" stroke-width="1.3"/><ellipse cx="1860.4" cy="822.5" rx="12.5" ry="3.1" fill="#cbcccd" opacity="0.75"/><ellipse cx="1860.4" cy="824.0" rx="19.5" ry="6" fill="none" stroke="#3c3f42" stroke-width="2.6"/><ellipse cx="1860.4" cy="822.5" rx="19.5" ry="6" fill="none" stroke="#c3c6c9" stroke-width="1.3"/><ellipse cx="1901.4" cy="822.5" rx="12.5" ry="3.1" fill="#cbcccd" opacity="0.75"/><ellipse cx="1901.4" cy="824.0" rx="19.5" ry="6" fill="none" stroke="#3c3f42" stroke-width="2.6"/><ellipse cx="1901.4" cy="822.5" rx="19.5" ry="6" fill="none" stroke="#c3c6c9" stroke-width="1.3"/><ellipse cx="1942.4" cy="822.5" rx="12.5" ry="3.1" fill="#cbcccd" opacity="0.75"/><ellipse cx="1942.4" cy="824.0" rx="19.5" ry="6" fill="none" stroke="#3c3f42" stroke-width="2.6"/><ellipse cx="1942.4" cy="822.5" rx="19.5" ry="6" fill="none" stroke="#c3c6c9" stroke-width="1.3"/><ellipse cx="1983.4" cy="822.5" rx="12.5" ry="3.1" fill="#cbcccd" opacity="0.75"/><ellipse cx="1983.4" cy="824.0" rx="19.5" ry="6" fill="none" stroke="#3c3f42" stroke-width="2.6"/><ellipse cx="1983.4" cy="822.5" rx="19.5" ry="6" fill="none" stroke="#c3c6c9" stroke-width="1.3"/><ellipse cx="2024.4" cy="822.5" rx="12.5" ry="3.1" fill="#cbcccd" opacity="0.75"/><ellipse cx="2024.4" cy="824.0" rx="19.5" ry="6" fill="none" stroke="#3c3f42" stroke-width="2.6"/><ellipse cx="2024.4" cy="822.5" rx="19.5" ry="6" fill="none" stroke="#c3c6c9" stroke-width="1.3"/><ellipse cx="2065.4" cy="822.5" rx="12.5" ry="3.1" fill="#cbcccd" opacity="0.75"/><ellipse cx="2065.4" cy="824.0" rx="19.5" ry="6" fill="none" stroke="#3c3f42" stroke-width="2.6"/><ellipse cx="2065.4" cy="822.5" rx="19.5" ry="6" fill="none" stroke="#c3c6c9" stroke-width="1.3"/><ellipse cx="1150.5" cy="837.5" rx="12.5" ry="3.1" fill="#cbcccd" opacity="0.30"/><ellipse cx="1150.5" cy="839.0" rx="19.5" ry="6" fill="none" stroke="#3c3f42" stroke-width="2.6"/><ellipse cx="1150.5" cy="837.5" rx="19.5" ry="6" fill="none" stroke="#c3c6c9" stroke-width="1.3"/><ellipse cx="1191.5" cy="837.5" rx="12.5" ry="3.1" fill="#cbcccd" opacity="0.31"/><ellipse cx="1191.5" cy="839.0" rx="19.5" ry="6" fill="none" stroke="#3c3f42" stroke-width="2.6"/><ellipse cx="1191.5" cy="837.5" rx="19.5" ry="6" fill="none" stroke="#c3c6c9" stroke-width="1.3"/><ellipse cx="1232.5" cy="837.5" rx="12.5" ry="3.1" fill="#cbcccd" opacity="0.37"/><ellipse cx="1232.5" cy="839.0" rx="19.5" ry="6" fill="none" stroke="#3c3f42" stroke-width="2.6"/><ellipse cx="1232.5" cy="837.5" rx="19.5" ry="6" fill="none" stroke="#c3c6c9" stroke-width="1.3"/><ellipse cx="1273.5" cy="837.5" rx="12.5" ry="3.1" fill="#cbcccd" opacity="0.42"/><ellipse cx="1273.5" cy="839.0" rx="19.5" ry="6" fill="none" stroke="#3c3f42" stroke-width="2.6"/><ellipse cx="1273.5" cy="837.5" rx="19.5" ry="6" fill="none" stroke="#c3c6c9" stroke-width="1.3"/><ellipse cx="1314.5" cy="837.5" rx="12.5" ry="3.1" fill="#cbcccd" opacity="0.47"/><ellipse cx="1314.5" cy="839.0" rx="19.5" ry="6" fill="none" stroke="#3c3f42" stroke-width="2.6"/><ellipse cx="1314.5" cy="837.5" rx="19.5" ry="6" fill="none" stroke="#c3c6c9" stroke-width="1.3"/><ellipse cx="1355.5" cy="837.5" rx="12.5" ry="3.1" fill="#cbcccd" opacity="0.53"/><ellipse cx="1355.5" cy="839.0" rx="19.5" ry="6" fill="none" stroke="#3c3f42" stroke-width="2.6"/><ellipse cx="1355.5" cy="837.5" rx="19.5" ry="6" fill="none" stroke="#c3c6c9" stroke-width="1.3"/><ellipse cx="1396.5" cy="837.5" rx="12.5" ry="3.1" fill="#cbcccd" opacity="0.58"/><ellipse cx="1396.5" cy="839.0" rx="19.5" ry="6" fill="none" stroke="#3c3f42" stroke-width="2.6"/><ellipse cx="1396.5" cy="837.5" rx="19.5" ry="6" fill="none" stroke="#c3c6c9" stroke-width="1.3"/><ellipse cx="1437.5" cy="837.5" rx="12.5" ry="3.1" fill="#cbcccd" opacity="0.63"/><ellipse cx="1437.5" cy="839.0" rx="19.5" ry="6" fill="none" stroke="#3c3f42" stroke-width="2.6"/><ellipse cx="1437.5" cy="837.5" rx="19.5" ry="6" fill="none" stroke="#c3c6c9" stroke-width="1.3"/><ellipse cx="1478.5" cy="837.5" rx="12.5" ry="3.1" fill="#cbcccd" opacity="0.68"/><ellipse cx="1478.5" cy="839.0" rx="19.5" ry="6" fill="none" stroke="#3c3f42" stroke-width="2.6"/><ellipse cx="1478.5" cy="837.5" rx="19.5" ry="6" fill="none" stroke="#c3c6c9" stroke-width="1.3"/><ellipse cx="1519.5" cy="837.5" rx="12.5" ry="3.1" fill="#cbcccd" opacity="0.74"/><ellipse cx="1519.5" cy="839.0" rx="19.5" ry="6" fill="none" stroke="#3c3f42" stroke-width="2.6"/><ellipse cx="1519.5" cy="837.5" rx="19.5" ry="6" fill="none" stroke="#c3c6c9" stroke-width="1.3"/><ellipse cx="1560.5" cy="837.5" rx="12.5" ry="3.1" fill="#cbcccd" opacity="0.75"/><ellipse cx="1560.5" cy="839.0" rx="19.5" ry="6" fill="none" stroke="#3c3f42" stroke-width="2.6"/><ellipse cx="1560.5" cy="837.5" rx="19.5" ry="6" fill="none" stroke="#c3c6c9" stroke-width="1.3"/><ellipse cx="1601.5" cy="837.5" rx="12.5" ry="3.1" fill="#cbcccd" opacity="0.75"/><ellipse cx="1601.5" cy="839.0" rx="19.5" ry="6" fill="none" stroke="#3c3f42" stroke-width="2.6"/><ellipse cx="1601.5" cy="837.5" rx="19.5" ry="6" fill="none" stroke="#c3c6c9" stroke-width="1.3"/><ellipse cx="1642.5" cy="837.5" rx="12.5" ry="3.1" fill="#cbcccd" opacity="0.75"/><ellipse cx="1642.5" cy="839.0" rx="19.5" ry="6" fill="none" stroke="#3c3f42" stroke-width="2.6"/><ellipse cx="1642.5" cy="837.5" rx="19.5" ry="6" fill="none" stroke="#c3c6c9" stroke-width="1.3"/><ellipse cx="1683.5" cy="837.5" rx="12.5" ry="3.1" fill="#cbcccd" opacity="0.75"/><ellipse cx="1683.5" cy="839.0" rx="19.5" ry="6" fill="none" stroke="#3c3f42" stroke-width="2.6"/><ellipse cx="1683.5" cy="837.5" rx="19.5" ry="6" fill="none" stroke="#c3c6c9" stroke-width="1.3"/><ellipse cx="1724.5" cy="837.5" rx="12.5" ry="3.1" fill="#cbcccd" opacity="0.75"/><ellipse cx="1724.5" cy="839.0" rx="19.5" ry="6" fill="none" stroke="#3c3f42" stroke-width="2.6"/><ellipse cx="1724.5" cy="837.5" rx="19.5" ry="6" fill="none" stroke="#c3c6c9" stroke-width="1.3"/><ellipse cx="1765.5" cy="837.5" rx="12.5" ry="3.1" fill="#cbcccd" opacity="0.75"/><ellipse cx="1765.5" cy="839.0" rx="19.5" ry="6" fill="none" stroke="#3c3f42" stroke-width="2.6"/><ellipse cx="1765.5" cy="837.5" rx="19.5" ry="6" fill="none" stroke="#c3c6c9" stroke-width="1.3"/><ellipse cx="1806.5" cy="837.5" rx="12.5" ry="3.1" fill="#cbcccd" opacity="0.75"/><ellipse cx="1806.5" cy="839.0" rx="19.5" ry="6" fill="none" stroke="#3c3f42" stroke-width="2.6"/><ellipse cx="1806.5" cy="837.5" rx="19.5" ry="6" fill="none" stroke="#c3c6c9" stroke-width="1.3"/><ellipse cx="1847.5" cy="837.5" rx="12.5" ry="3.1" fill="#cbcccd" opacity="0.75"/><ellipse cx="1847.5" cy="839.0" rx="19.5" ry="6" fill="none" stroke="#3c3f42" stroke-width="2.6"/><ellipse cx="1847.5" cy="837.5" rx="19.5" ry="6" fill="none" stroke="#c3c6c9" stroke-width="1.3"/><ellipse cx="1888.5" cy="837.5" rx="12.5" ry="3.1" fill="#cbcccd" opacity="0.75"/><ellipse cx="1888.5" cy="839.0" rx="19.5" ry="6" fill="none" stroke="#3c3f42" stroke-width="2.6"/><ellipse cx="1888.5" cy="837.5" rx="19.5" ry="6" fill="none" stroke="#c3c6c9" stroke-width="1.3"/><ellipse cx="1929.5" cy="837.5" rx="12.5" ry="3.1" fill="#cbcccd" opacity="0.75"/><ellipse cx="1929.5" cy="839.0" rx="19.5" ry="6" fill="none" stroke="#3c3f42" stroke-width="2.6"/><ellipse cx="1929.5" cy="837.5" rx="19.5" ry="6" fill="none" stroke="#c3c6c9" stroke-width="1.3"/><ellipse cx="1970.5" cy="837.5" rx="12.5" ry="3.1" fill="#cbcccd" opacity="0.75"/><ellipse cx="1970.5" cy="839.0" rx="19.5" ry="6" fill="none" stroke="#3c3f42" stroke-width="2.6"/><ellipse cx="1970.5" cy="837.5" rx="19.5" ry="6" fill="none" stroke="#c3c6c9" stroke-width="1.3"/><ellipse cx="2011.5" cy="837.5" rx="12.5" ry="3.1" fill="#cbcccd" opacity="0.75"/><ellipse cx="2011.5" cy="839.0" rx="19.5" ry="6" fill="none" stroke="#3c3f42" stroke-width="2.6"/><ellipse cx="2011.5" cy="837.5" rx="19.5" ry="6" fill="none" stroke="#c3c6c9" stroke-width="1.3"/><ellipse cx="2052.5" cy="837.5" rx="12.5" ry="3.1" fill="#cbcccd" opacity="0.75"/><ellipse cx="2052.5" cy="839.0" rx="19.5" ry="6" fill="none" stroke="#3c3f42" stroke-width="2.6"/><ellipse cx="2052.5" cy="837.5" rx="19.5" ry="6" fill="none" stroke="#c3c6c9" stroke-width="1.3"/><ellipse cx="2093.5" cy="837.5" rx="12.5" ry="3.1" fill="#cbcccd" opacity="0.75"/><ellipse cx="2093.5" cy="839.0" rx="19.5" ry="6" fill="none" stroke="#3c3f42" stroke-width="2.6"/><ellipse cx="2093.5" cy="837.5" rx="19.5" ry="6" fill="none" stroke="#c3c6c9" stroke-width="1.3"/><path d="M1206,756 L1138,836" stroke="#35383b" stroke-width="3" opacity="0.85"/><path d="M1208,756 L1140,836" stroke="#c9ccce" stroke-width="0.9" opacity="0.7"/><path d="M1247,756 L1179,836" stroke="#35383b" stroke-width="3" opacity="0.85"/><path d="M1249,756 L1181,836" stroke="#c9ccce" stroke-width="0.9" opacity="0.7"/><path d="M1288,756 L1220,836" stroke="#35383b" stroke-width="3" opacity="0.85"/><path d="M1290,756 L1222,836" stroke="#c9ccce" stroke-width="0.9" opacity="0.7"/><path d="M1329,756 L1261,836" stroke="#35383b" stroke-width="3" opacity="0.85"/><path d="M1331,756 L1263,836" stroke="#c9ccce" stroke-width="0.9" opacity="0.7"/><path d="M1370,756 L1302,836" stroke="#35383b" stroke-width="3" opacity="0.85"/><path d="M1372,756 L1304,836" stroke="#c9ccce" stroke-width="0.9" opacity="0.7"/><path d="M1411,756 L1343,836" stroke="#35383b" stroke-width="3" opacity="0.85"/><path d="M1413,756 L1345,836" stroke="#c9ccce" stroke-width="0.9" opacity="0.7"/><path d="M1452,756 L1384,836" stroke="#35383b" stroke-width="3" opacity="0.85"/><path d="M1454,756 L1386,836" stroke="#c9ccce" stroke-width="0.9" opacity="0.7"/><path d="M1493,756 L1425,836" stroke="#35383b" stroke-width="3" opacity="0.85"/><path d="M1495,756 L1427,836" stroke="#c9ccce" stroke-width="0.9" opacity="0.7"/><path d="M1534,756 L1466,836" stroke="#35383b" stroke-width="3" opacity="0.85"/><path d="M1536,756 L1468,836" stroke="#c9ccce" stroke-width="0.9" opacity="0.7"/><path d="M1575,756 L1507,836" stroke="#35383b" stroke-width="3" opacity="0.85"/><path d="M1577,756 L1509,836" stroke="#c9ccce" stroke-width="0.9" opacity="0.7"/><path d="M1616,756 L1548,836" stroke="#35383b" stroke-width="3" opacity="0.85"/><path d="M1618,756 L1550,836" stroke="#c9ccce" stroke-width="0.9" opacity="0.7"/><path d="M1657,756 L1589,836" stroke="#35383b" stroke-width="3" opacity="0.85"/><path d="M1659,756 L1591,836" stroke="#c9ccce" stroke-width="0.9" opacity="0.7"/><path d="M1698,756 L1630,836" stroke="#35383b" stroke-width="3" opacity="0.85"/><path d="M1700,756 L1632,836" stroke="#c9ccce" stroke-width="0.9" opacity="0.7"/><path d="M1739,756 L1671,836" stroke="#35383b" stroke-width="3" opacity="0.85"/><path d="M1741,756 L1673,836" stroke="#c9ccce" stroke-width="0.9" opacity="0.7"/><path d="M1780,756 L1712,836" stroke="#35383b" stroke-width="3" opacity="0.85"/><path d="M1782,756 L1714,836" stroke="#c9ccce" stroke-width="0.9" opacity="0.7"/><path d="M1821,756 L1753,836" stroke="#35383b" stroke-width="3" opacity="0.85"/><path d="M1823,756 L1755,836" stroke="#c9ccce" stroke-width="0.9" opacity="0.7"/><path d="M1862,756 L1794,836" stroke="#35383b" stroke-width="3" opacity="0.85"/><path d="M1864,756 L1796,836" stroke="#c9ccce" stroke-width="0.9" opacity="0.7"/><path d="M1903,756 L1835,836" stroke="#35383b" stroke-width="3" opacity="0.85"/><path d="M1905,756 L1837,836" stroke="#c9ccce" stroke-width="0.9" opacity="0.7"/><path d="M1944,756 L1876,836" stroke="#35383b" stroke-width="3" opacity="0.85"/><path d="M1946,756 L1878,836" stroke="#c9ccce" stroke-width="0.9" opacity="0.7"/><path d="M1985,756 L1917,836" stroke="#35383b" stroke-width="3" opacity="0.85"/><path d="M1987,756 L1919,836" stroke="#c9ccce" stroke-width="0.9" opacity="0.7"/><path d="M2026,756 L1958,836" stroke="#35383b" stroke-width="3" opacity="0.85"/><path d="M2028,756 L1960,836" stroke="#c9ccce" stroke-width="0.9" opacity="0.7"/><path d="M2067,756 L1999,836" stroke="#35383b" stroke-width="3" opacity="0.85"/><path d="M2069,756 L2001,836" stroke="#c9ccce" stroke-width="0.9" opacity="0.7"/><path d="M2108,756 L2040,836" stroke="#35383b" stroke-width="3" opacity="0.85"/><path d="M2110,756 L2042,836" stroke="#c9ccce" stroke-width="0.9" opacity="0.7"/><path d="M2149,756 L2081,836" stroke="#35383b" stroke-width="3" opacity="0.85"/><path d="M2151,756 L2083,836" stroke="#c9ccce" stroke-width="0.9" opacity="0.7"/><path d="M2190,756 L2122,836" stroke="#35383b" stroke-width="3" opacity="0.85"/><path d="M2192,756 L2124,836" stroke="#c9ccce" stroke-width="0.9" opacity="0.7"/><path d="M2231,756 L2163,836" stroke="#35383b" stroke-width="3" opacity="0.85"/><path d="M2233,756 L2165,836" stroke="#c9ccce" stroke-width="0.9" opacity="0.7"/><path d="M2272,756 L2204,836" stroke="#35383b" stroke-width="3" opacity="0.85"/><path d="M2274,756 L2206,836" stroke="#c9ccce" stroke-width="0.9" opacity="0.7"/><path d="M1130,770 L2048,770" stroke="#3f4245" stroke-width="1.6" opacity="0.6"/><path d="M1130,785 L2048,785" stroke="#3f4245" stroke-width="1.6" opacity="0.6"/><path d="M1130,800 L2048,800" stroke="#3f4245" stroke-width="1.6" opacity="0.6"/><path d="M1130,815 L2048,815" stroke="#3f4245" stroke-width="1.6" opacity="0.6"/><path d="M1130,830 L2048,830" stroke="#3f4245" stroke-width="1.6" opacity="0.6"/><path d="M1130,845 L2048,845" stroke="#3f4245" stroke-width="1.6" opacity="0.6"/></g><path d="M1206,756 L1138,836 L1150,840 L2048,843" stroke="#b4b8bc" stroke-width="3.2" fill="none" stroke-linejoin="round"/><path d="M1206,756 L1138,836 L1150,840 L2048,843" stroke="#6d7175" stroke-width="1" fill="none" stroke-linejoin="round"/><polygon points="1102.0,658.0 996.0,749.0 996.0,756.0 2048.0,755.0 2048.0,658.0" fill="#92959a"/><polygon points="1102.0,658.0 996.0,749.0 996.0,756.0 2048.0,755.0 2048.0,658.0" fill="#000" filter="url(#fNoise)" opacity="0.35"/><polygon points="1102.0,658.0 996.0,749.0 996.0,756.0 2048.0,755.0 2048.0,658.0" fill="#fff" filter="url(#fNoiseW)" opacity="0.16"/><g mask="url(#mX1)"><polygon points="1102.0,658.0 996.0,749.0 996.0,756.0 2048.0,755.0 2048.0,658.0" fill="url(#gFelt1sh)"/></g><path d="M996,752.5 L2048,751.5" stroke="#b5b8bd" stroke-width="6" opacity="0.55" stroke-dasharray="7 3 11 2 5 4" filter="url(#blurL)"/><polygon points="1098.0,552.0 991.0,652.0 992.0,659.0 2048.0,659.0 2048.0,552.0" fill="url(#gCoco)"/><polygon points="1098.0,552.0 991.0,652.0 992.0,659.0 2048.0,659.0 2048.0,552.0" fill="#000" filter="url(#fCoco)" opacity="0.7"/><polygon points="1098.0,552.0 991.0,652.0 992.0,659.0 2048.0,659.0 2048.0,552.0" fill="#fff" filter="url(#fCocoL)" opacity="0.2"/><g mask="url(#mX3)"><polygon points="1098.0,552.0 991.0,652.0 992.0,659.0 2048.0,659.0 2048.0,552.0" fill="url(#gCocoSh)"/></g><path d="M992,655.5 L2048,655.5" stroke="#c58b6b" stroke-width="6" opacity="0.5" stroke-dasharray="5 3 9 2 4 4" filter="url(#blurL)"/><path d="M1130,405 L993,514 Q979,527 986,541 Q991,552 1006,552.5 L2048,553.5 L2048,405 Z" fill="url(#gFoamTop)"/><g mask="url(#mX2)"><path d="M1130,405 L993,514 Q979,527 986,541 Q991,552 1006,552.5 L2048,553.5 L2048,405 Z" fill="url(#gFoamSh)"/></g><path d="M987,541 Q991,552 1006,552.5 L2048,553.5 L2048,515 L1431,515 Q1200,522 1002,536 Z" fill="url(#gFoamFront)" filter="url(#blur1)"/><rect x="1064" y="404" width="69" height="26" fill="#f3f3f5"/><rect x="1064" y="428" width="69" height="2" fill="#dedee2"/><path d="M1289,168 L951,384 Q936,394 950,402 Q962,408 988,408 L1536,408.5 L2048,413.5 L2048,163.5 L1314,164.5 Q1297,164.5 1289,168 Z" fill="url(#gCovTrim)"/><path d="M1289,168 L951,384 Q936,394 950,402" stroke="#e6e8ec" stroke-width="3" fill="none"/><path d="M1300,170 L962,388 Q954,395 968,396.5 L1536,398.5 L2048,401.5 L2048,165.5 L1318,166.5 Q1306,166.5 1300,170 Z" fill="url(#gCovTop)"/><g clip-path="url(#cpCov)"><rect x="940" y="160" width="1110" height="245" fill="url(#weave)"/><rect x="940" y="160" width="1110" height="245" fill="url(#dotsTop)"/><g filter="url(#blur1)"><path d="M1831,244 q166,-2 333,-10" stroke="#66676a" stroke-width="1.3" opacity="0.47" fill="none" stroke-linecap="round"/><path d="M1760,188 q101,-1 201,-5" stroke="#66676a" stroke-width="2.0" opacity="0.28" fill="none" stroke-linecap="round"/><path d="M1186,273 q162,-2 323,-8" stroke="#66676a" stroke-width="1.5" opacity="0.41" fill="none" stroke-linecap="round"/><path d="M1661,271 q140,-2 280,-12" stroke="#66676a" stroke-width="2.8" opacity="0.30" fill="none" stroke-linecap="round"/><path d="M1301,277 q63,-1 126,-4" stroke="#66676a" stroke-width="2.4" opacity="0.32" fill="none" stroke-linecap="round"/><path d="M1723,251 q117,-2 233,-9" stroke="#66676a" stroke-width="2.3" opacity="0.45" fill="none" stroke-linecap="round"/><path d="M1105,365 q217,-4 435,-18" stroke="#66676a" stroke-width="1.8" opacity="0.41" fill="none" stroke-linecap="round"/><path d="M1372,366 q162,-3 325,-15" stroke="#cfd0d2" stroke-width="3.1" opacity="0.37" fill="none" stroke-linecap="round"/><path d="M1278,313 q165,-3 329,-14" stroke="#66676a" stroke-width="2.5" opacity="0.30" fill="none" stroke-linecap="round"/><path d="M1932,364 q224,-3 447,-15" stroke="#66676a" stroke-width="3.0" opacity="0.48" fill="none" stroke-linecap="round"/><path d="M1357,355 q86,-1 173,-5" stroke="#66676a" stroke-width="2.5" opacity="0.37" fill="none" stroke-linecap="round"/><path d="M1826,186 q53,-1 105,-5" stroke="#66676a" stroke-width="1.2" opacity="0.45" fill="none" stroke-linecap="round"/><path d="M1367,209 q102,-2 205,-8" stroke="#66676a" stroke-width="2.2" opacity="0.49" fill="none" stroke-linecap="round"/><path d="M1910,280 q73,-1 146,-3" stroke="#66676a" stroke-width="2.1" opacity="0.43" fill="none" stroke-linecap="round"/><path d="M1548,310 q180,-2 360,-12" stroke="#66676a" stroke-width="1.9" opacity="0.46" fill="none" stroke-linecap="round"/><path d="M1218,364 q205,-4 409,-20" stroke="#66676a" stroke-width="2.5" opacity="0.30" fill="none" stroke-linecap="round"/><path d="M1548,289 q140,-1 281,-4" stroke="#66676a" stroke-width="2.9" opacity="0.35" fill="none" stroke-linecap="round"/><path d="M1560,343 q143,-2 287,-11" stroke="#66676a" stroke-width="1.6" opacity="0.35" fill="none" stroke-linecap="round"/><path d="M1878,375 q119,-2 239,-8" stroke="#66676a" stroke-width="1.8" opacity="0.45" fill="none" stroke-linecap="round"/><path d="M1466,364 q124,-1 247,-5" stroke="#cfd0d2" stroke-width="2.7" opacity="0.28" fill="none" stroke-linecap="round"/><path d="M1084,339 q99,-1 199,-5" stroke="#66676a" stroke-width="2.7" opacity="0.34" fill="none" stroke-linecap="round"/><path d="M1202,306 q163,-1 327,-6" stroke="#66676a" stroke-width="2.2" opacity="0.30" fill="none" stroke-linecap="round"/><path d="M1495,288 q111,-1 222,-7" stroke="#66676a" stroke-width="2.2" opacity="0.30" fill="none" stroke-linecap="round"/><path d="M1646,309 q137,-2 275,-12" stroke="#cfd0d2" stroke-width="2.4" opacity="0.31" fill="none" stroke-linecap="round"/><path d="M1784,331 q197,-2 395,-10" stroke="#cfd0d2" stroke-width="2.0" opacity="0.30" fill="none" stroke-linecap="round"/><path d="M1843,384 q100,-1 200,-5" stroke="#66676a" stroke-width="3.0" opacity="0.27" fill="none" stroke-linecap="round"/></g><g filter="url(#blur1)"><text transform="translate(1990,367) scale(-1,-0.42) skewX(30)" font-family="'Liberation Serif',serif" font-style="italic" font-size="111" fill="#737476" opacity="0.17">Silver</text><text transform="translate(1165,364) scale(-1,-0.42) skewX(30)" font-family="'Liberation Serif',serif" font-style="italic" font-size="106" fill="#737476" opacity="0.17">Silver</text><text transform="translate(1563,299) scale(-1,-0.35) skewX(30)" font-family="'Liberation Serif',serif" font-style="italic" font-size="88" fill="#737476" opacity="0.17">Silver</text><text transform="translate(1368,260) scale(-1,-0.31) skewX(30)" font-family="'Liberation Serif',serif" font-style="italic" font-size="64" fill="#737476" opacity="0.17">Silver</text><text transform="translate(1630,227) scale(-1,-0.28) skewX(30)" font-family="'Liberation Serif',serif" font-style="italic" font-size="77" fill="#737476" opacity="0.17">Silver</text><text transform="translate(2012,276) scale(-1,-0.33) skewX(30)" font-family="'Liberation Serif',serif" font-style="italic" font-size="81" fill="#737476" opacity="0.17">Silver</text><text transform="translate(2040,202) scale(-1,-0.26) skewX(30)" font-family="'Liberation Serif',serif" font-style="italic" font-size="91" fill="#737476" opacity="0.17">Silver</text><text transform="translate(1560,181) scale(-1,-0.24) skewX(30)" font-family="'Liberation Serif',serif" font-style="italic" font-size="64" fill="#737476" opacity="0.17">Silver</text></g><rect x="940" y="378" width="1110" height="26" fill="url(#gCovEdge)"/><rect x="940" y="382" width="1110" height="22" fill="url(#dotsEdge)"/></g></svg>
<svg class="ic" style="left:60.2px;top:180.8px" width="72" height="72" viewBox="-36 -36 72 72"><use href="#chk"/></svg>
<svg class="ic" style="left:60.2px;top:377.0px" width="72" height="72" viewBox="-36 -36 72 72"><use href="#chk"/></svg>
<svg class="ic" style="left:60.2px;top:573.2px" width="72" height="72" viewBox="-36 -36 72 72"><use href="#chk"/></svg>
<svg class="ic" style="left:60.2px;top:769.4px" width="72" height="72" viewBox="-36 -36 72 72"><use href="#chk"/></svg>
<svg class="ic" style="left:60.2px;top:1014.6px" width="72" height="72" viewBox="-36 -36 72 72"><use href="#chk"/></svg>
<svg class="ic" style="left:60.2px;top:1308.9px" width="72" height="72" viewBox="-36 -36 72 72"><use href="#chk"/></svg>
<div class="ln" style="top:184.12px"><b>Чехол</b> выполнен из жаккарда -</div>
<div class="ln" style="top:233.27px">воздухопроницаемого и износостойкого</div>
<div class="ln" style="top:282.42px">материала.</div>
<div class="ln" style="top:380.72px"><b>Кокос</b> обеспечивает</div>
<div class="ln" style="top:429.87px">беспрепядственный обмен воздуха и</div>
<div class="ln" style="top:479.02px">придает жесткость.</div>
<div class="ln" style="top:577.32px"><b>Синтепон</b> обеспечивает комфорт</div>
<div class="ln" style="top:626.47px">во время сна и высокую</div>
<div class="ln" style="top:675.62px">воздухопроницаемость.</div>
<div class="ln" style="top:773.92px"><b>Термоволокно</b> обеспечивает</div>
<div class="ln" style="top:823.07px">правильную терморегуляцию и</div>
<div class="ln" style="top:872.22px">защищает внутренние слои матраса от</div>
<div class="ln" style="top:921.37px">воздейсвивия пружин.</div>
<div class="ln" style="top:1019.67px"><b>Классический пружинный блок</b></div>
<div class="ln" style="top:1068.82px"><b>Боннель</b> состоит из соединённых друг</div>
<div class="ln" style="top:1117.97px">с другом пружин особой формы, что</div>
<div class="ln" style="top:1167.12px">обеспечит долгий срок службы и</div>
<div class="ln" style="top:1216.27px">максимальную упругость.</div>
<div class="ln" style="top:1314.57px"><b>Периметр</b> выполнен</div>
<div class="ln" style="top:1364.22px">из особой пены высокой плотности</div>
<div class="ln" style="top:1413.87px">HD Foam, сохранит матрас в</div>
<div class="ln" style="top:1463.42px">первоначальном виде на долгие годы.</div>
</body></html>
